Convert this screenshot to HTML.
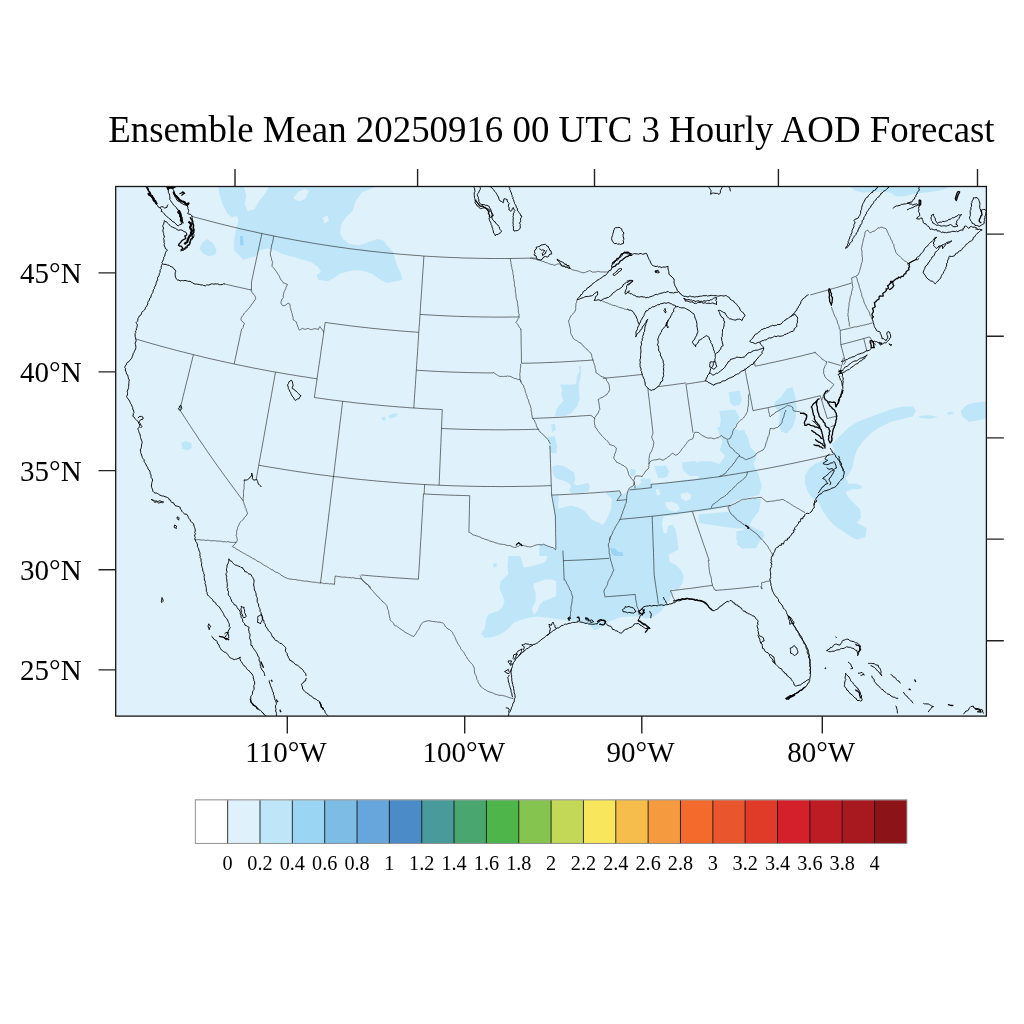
<!DOCTYPE html><html><head><meta charset="utf-8"><style>html,body{margin:0;padding:0;background:#fff;width:1024px;height:1024px;overflow:hidden}svg{display:block}text{font-family:"Liberation Serif",serif;fill:#000}</style></head><body>
<svg width="1024" height="1024" viewBox="0 0 1024 1024">
<text x="108.2" y="141.8" font-size="37" textLength="886.4" lengthAdjust="spacingAndGlyphs">Ensemble Mean 20250916 00 UTC 3 Hourly AOD Forecast</text>
<rect x="115.7" y="186.5" width="870.6999999999999" height="529.6" fill="#dff2fb"/>
<defs><clipPath id="mc"><rect x="115.7" y="186.5" width="870.6999999999999" height="529.6"/></clipPath></defs>
<g clip-path="url(#mc)"><path d="M218.1 184.4 219.7 195.4 222.8 204.8 227.5 214.1 232.2 217.2 236.9 215.7 238.4 220.4 236.9 226.6 235.3 232.9 233.8 242.2 233.8 250.1 238.4 254.8 243.1 259.4 249.4 257.9 255.6 256.3 260.3 250.1 268.1 248.5 274.4 250.1 280.6 253.2 290.0 256.3 302.5 259.4 311.9 262.6 318.1 267.2 321.2 271.9 316.6 275.1 318.1 279.8 327.5 281.3 333.8 278.2 340.0 273.5 352.5 270.4 361.9 270.4 371.2 273.5 380.6 279.8 386.9 282.9 396.2 281.3 402.5 279.8 400.9 273.5 397.8 267.2 394.7 257.9 393.1 251.6 386.9 245.4 383.8 240.7 377.5 239.1 368.1 242.2 358.8 245.4 349.4 243.8 343.1 239.1 340.0 232.9 341.6 223.5 346.2 217.2 352.5 211.0 355.6 201.6 361.9 192.2 374.4 187.6 377.5 184.4Z" fill="#bee6f8"/><path d="M243.1 184.4 246.2 195.4 244.7 204.8 247.8 211.0 254.1 209.4 258.8 201.6 263.4 195.4 268.1 189.1 268.1 184.4Z" fill="#dff2fb"/><path d="M293.1 198.5 297.8 192.2 304.1 189.1 308.8 190.7 305.6 198.5 299.4 201.6Z" fill="#dff2fb"/><path d="M322.8 217.2 327.5 215.7 329.1 220.4 324.4 223.5Z" fill="#dff2fb"/><path d="M199.4 248.5 202.5 242.2 207.2 239.1 213.4 243.8 216.6 250.1 215.0 254.8 208.8 256.3 202.5 253.2Z" fill="#bee6f8"/><path d="M240.0 236.0 243.1 236.0 243.8 245.4 240.0 245.4Z" fill="#9ad6f3"/><path d="M847.9 184.9 854.7 190.5 863.7 192.8 872.8 191.7 881.9 191.7 890.9 192.8 895.5 196.2 904.5 196.2 913.6 193.9 922.7 192.8 931.7 191.7 940.8 190.5 947.6 188.3 949.8 184.9Z" fill="#bee6f8"/><path d="M181.2 442.9 185.3 441.0 191.6 442.9 191.6 448.5 186.9 450.4 182.2 448.5Z" fill="#bee6f8"/><path d="M381.2 417.2 384.4 416.6 386.2 419.8 383.1 421.0Z" fill="#bee6f8"/><path d="M388.4 415.7 393.1 413.5 397.8 413.5 395.6 417.2 390.0 418.5Z" fill="#bee6f8"/><path d="M552.5 466.6 557.2 465.0 563.4 465.8 569.7 469.7 574.4 472.8 575.2 479.1 573.6 483.8 577.5 485.3 583.8 483.8 588.4 483.0 590.0 486.9 588.4 491.6 582.2 493.1 575.9 494.7 571.2 493.1 568.9 490.0 571.2 486.9 569.7 483.8 563.4 480.6 557.2 479.1 554.1 475.9 552.5 471.2Z" fill="#bee6f8"/><path d="M549.4 439.2 555.6 439.2 557.2 446.2 555.6 452.5 550.9 452.5 548.6 446.2Z" fill="#bee6f8"/><path d="M551.7 495.5 571.2 493.9 580.6 494.7 586.9 493.9 594.7 493.1 605.6 492.3 618.1 491.6 622.8 494.7 627.5 491.6 630.6 488.4 633.8 486.9 638.4 485.3 641.6 482.2 640.0 479.8 643.9 478.3 649.4 479.8 650.9 484.5 658.8 483.8 668.1 482.5 677.5 480.9 686.9 479.8 700.9 478.3 700.9 600.9 539.2 600.9 539.2 544.7 544.7 543.9 550.9 547.8 555.6 549.4 555.6 533.8 554.8 518.1 553.3 505.6Z" fill="#bee6f8"/><path d="M558.8 493.9 571.2 493.1 586.9 492.8 605.6 492.0 611.9 496.2 611.1 508.8 608.8 515.0 605.6 521.2 602.5 525.2 599.4 522.8 594.7 521.2 590.0 518.1 586.9 513.4 583.8 510.3 577.5 507.2 571.2 505.6 563.4 507.2 558.0 508.8Z" fill="#dff2fb"/><path d="M605.6 493.1 613.4 492.3 618.1 493.1 616.6 497.8 611.9 498.6 608.8 496.2Z" fill="#bee6f8"/><path d="M663.4 516.6 669.7 515.8 675.9 515.0 680.6 513.4 700.9 511.1 700.9 600.9 669.7 600.9 668.1 590.0 672.8 588.4 677.5 590.0 682.2 583.8 683.8 575.9 680.6 569.7 675.9 565.0 669.7 561.9 668.1 555.6 672.8 552.5 678.3 549.4 677.5 540.0 675.9 530.6 672.8 524.4 668.1 525.9 666.6 533.8 663.4 532.2 661.9 524.4Z" fill="#dff2fb"/><path d="M665.0 502.5 671.2 501.7 677.5 504.1 679.8 508.8 675.9 511.9 669.7 510.3 666.6 507.2Z" fill="#dff2fb"/><path d="M680.6 493.9 686.9 492.3 691.6 494.7 690.0 499.4 685.3 500.9 681.4 498.6Z" fill="#dff2fb"/><path d="M655.6 490.0 658.8 488.4 660.3 494.7 657.2 495.5Z" fill="#dff2fb"/><path d="M568.1 571.2 574.4 569.7 577.5 575.9 574.4 579.1 569.7 577.5Z" fill="#dff2fb"/><path d="M555.6 583.8 561.9 585.3 563.4 593.1 557.2 594.7Z" fill="#dff2fb"/><path d="M610.3 547.8 615.0 548.6 618.1 551.7 622.8 552.5 623.6 558.8 618.1 559.5 613.4 555.6 611.1 552.5Z" fill="#9ad6f3"/><path d="M657.2 466.6 665.0 465.8 669.7 471.2 665.0 477.5 658.8 478.3 657.2 472.8Z" fill="#bee6f8"/><path d="M683.8 463.4 690.0 461.9 696.2 463.4 700.9 465.0 700.9 475.9 690.0 475.9 685.3 471.2 682.2 466.6Z" fill="#bee6f8"/><path d="M629.8 469.7 633.8 468.9 636.1 471.2 634.5 475.2 631.4 475.2Z" fill="#bee6f8"/><path d="M508.4 556.1 507.4 567.8 508.4 573.7 504.5 577.6 500.5 581.5 499.6 589.3 502.5 595.2 504.5 601.0 502.5 606.9 498.6 610.8 492.7 612.7 487.9 614.7 485.9 620.5 484.9 628.4 481.0 633.2 484.9 638.1 492.7 637.1 500.5 634.2 506.4 630.3 510.3 626.4 514.2 622.5 522.0 619.6 529.8 617.6 537.7 616.6 545.5 617.6 553.3 618.6 561.1 619.6 568.9 620.5 576.7 620.5 588.4 624.5 594.3 630.3 598.2 629.3 602.1 624.5 611.9 620.5 619.7 617.6 627.5 616.6 635.3 616.6 641.2 617.6 641.2 556.1Z" fill="#bee6f8"/><path d="M492.7 563.9 496.6 562.9 496.6 566.8 493.7 567.8Z" fill="#bee6f8"/><path d="M520.1 556.1 524.0 567.8 531.8 565.9 539.6 563.9 545.5 562.0 547.4 556.1Z" fill="#dff2fb"/><path d="M533.8 583.4 539.6 581.5 545.5 579.5 551.3 579.5 557.2 581.5 561.1 585.4 563.0 591.2 559.1 595.2 553.3 597.1 549.4 599.1 543.5 601.0 539.6 604.9 537.7 610.8 533.8 614.7 531.8 608.8 535.7 601.0 535.7 593.2 533.8 587.3Z" fill="#dff2fb"/><path d="M568.9 571.7 574.8 570.7 578.7 575.6 576.7 579.5 570.9 577.6Z" fill="#dff2fb"/><path d="M556.1 556.1 669.4 556.1 668.4 571.7 669.4 581.5 672.3 589.3 671.3 595.2 669.4 599.1 665.5 604.9 661.6 610.8 653.8 616.6 645.9 618.6 638.1 614.7 628.4 615.7 618.6 616.6 610.8 618.6 606.9 624.5 599.1 627.4 591.2 626.4 583.4 618.6 571.7 617.6 556.1 618.6Z" fill="#bee6f8"/><path d="M831.7 444.5 840.1 436.1 848.5 427.6 857.0 422.0 868.2 417.8 879.4 413.6 890.6 409.4 901.8 406.6 913.0 406.6 915.8 410.8 913.0 416.4 901.8 419.2 890.6 422.0 879.4 427.6 871.0 433.3 862.6 441.7 857.0 450.1 854.1 458.5 852.7 466.9 848.5 475.3 845.7 478.1 848.5 483.7 857.0 483.7 862.6 486.5 859.8 489.3 851.3 489.3 845.7 492.1 848.5 497.7 854.1 503.3 859.8 508.9 861.2 517.3 857.0 522.9 862.6 525.7 866.8 528.5 865.4 537.0 857.0 539.8 851.3 537.0 842.9 531.3 834.5 525.7 828.9 520.1 823.3 511.7 820.5 506.1 817.7 500.5 812.1 497.7 807.9 492.1 805.1 483.7 805.1 475.3 809.3 468.3 814.9 464.1 823.3 459.9 831.7 455.7 834.5 450.1Z" fill="#bee6f8"/><path d="M918.6 415.9 929.8 415.3 938.2 417.0 929.8 418.7 920.0 418.1Z" fill="#bee6f8"/><path d="M946.6 412.5 952.2 411.4 953.6 414.2 948.0 414.8Z" fill="#bee6f8"/><path d="M960.7 410.8 966.3 405.2 974.7 402.4 988.7 401.0 988.7 417.8 977.5 420.6 969.1 422.0 962.1 416.4Z" fill="#bee6f8"/><path d="M774.3 402.4 781.3 396.8 786.9 388.4 792.5 387.0 795.3 396.8 796.7 408.0 795.3 419.2 792.5 427.6 786.9 433.3 781.3 431.8 778.5 424.8 779.9 413.6 775.7 408.0Z" fill="#bee6f8"/><path d="M729.4 394.0 739.2 392.6 742.0 399.6 739.2 405.2 732.2 405.2Z" fill="#bee6f8"/><path d="M719.6 413.6 733.6 412.2 739.2 416.4 736.4 422.0 725.2 422.0Z" fill="#bee6f8"/><path d="M716.8 427.6 728.0 424.8 739.2 430.4 747.6 436.1 750.4 447.3 756.1 452.9 756.1 458.5 753.3 464.1 758.9 475.3 761.7 486.5 758.9 494.9 747.6 497.7 736.4 500.5 728.0 506.1 716.8 508.9 698.6 511.7 698.6 461.3 711.2 461.3 719.6 464.1 725.2 455.7 719.6 450.1 722.4 441.7 719.6 434.7Z" fill="#bee6f8"/><path d="M698.6 514.5 728.0 511.7 742.0 520.1 747.6 528.5 736.4 528.5 716.8 525.7 698.6 522.9Z" fill="#bee6f8"/><path d="M736.4 531.3 750.4 528.5 761.7 537.0 756.1 548.2 742.0 548.2 736.4 539.8Z" fill="#bee6f8"/><path d="M578.5 366.0 579.8 371.0 577.2 376.0 576.0 383.5 571.0 386.0 563.5 388.5 561.0 393.5 563.5 401.0 558.5 406.0 556.0 411.0 554.8 416.0 561.0 416.0 571.0 413.5 577.2 406.0 579.8 398.5 578.5 386.0 581.0 376.0 581.0 366.0Z" fill="#bee6f8"/><path d="M551.0 424.8 554.8 423.5 556.0 429.8 552.2 432.2Z" fill="#bee6f8"/><path d="M549.8 437.2 554.8 436.0 556.0 443.5 549.0 443.5Z" fill="#bee6f8"/><path d="M560.0 384.4 563.1 392.2 566.2 398.5 561.6 404.8 556.9 409.4 555.3 415.7 566.2 415.7 572.5 409.4 574.1 401.6 575.6 393.8 577.2 384.4Z" fill="#bee6f8"/><path d="M728.8 392.2 739.7 390.7 741.2 401.6 735.0 406.3 730.3 403.2Z" fill="#bee6f8"/><path d="M719.4 411.0 735.0 409.4 739.7 417.2 735.0 426.6 725.6 436.0 719.4 429.8 720.9 420.4Z" fill="#bee6f8"/><path d="M728.8 432.9 744.4 429.8 747.5 442.2 750.6 454.8 744.4 459.4 735.0 454.8 728.8 445.4Z" fill="#bee6f8"/><path d="M631.2 468.8 635.0 469.8 633.8 476.6 630.0 475.4Z" fill="#bee6f8"/><path d="M653.8 465.7 666.2 465.7 667.8 476.6 658.4 478.2Z" fill="#bee6f8"/><path d="M681.9 462.6 694.4 461.0 700.6 464.1 700.6 473.5 688.1 475.1 683.4 470.4Z" fill="#bee6f8"/><path d="M641.2 479.8 650.6 478.2 650.6 486.0 642.8 487.6Z" fill="#bee6f8"/><path d="M547.5 436.0 552.2 437.6 555.3 443.8 556.9 453.2 552.2 453.2 549.1 445.4Z" fill="#bee6f8"/><path d="M728.4 507.3 739.4 501.1 750.3 498.4 761.2 498.4 758.9 511.2 753.4 518.3 749.5 525.3 755.0 528.4 762.8 531.6 764.4 536.2 758.9 541.7 751.9 547.2 742.5 548.8 736.2 544.1 740.2 537.8 744.1 530.0 740.9 524.5 735.5 519.1 730.0 514.4Z" fill="#bee6f8"/></g>
<g clip-path="url(#mc)" fill="none" stroke-linejoin="round"><path d="M136.2 339.1 139.6 340.1 143.0 341.1 146.3 342.1 149.7 343.0 153.0 344.0 156.4 344.9 159.8 345.9 163.1 346.8 166.5 347.7 169.9 348.6 173.3 349.5 176.7 350.4 180.0 351.3 183.4 352.1 186.8 353.0 190.2 353.8 193.6 354.7 197.0 355.5 200.4 356.3 203.8 357.2 207.2 358.0 210.6 358.8 214.0 359.5 217.4 360.3 220.8 361.1 224.2 361.8 227.6 362.6 231.1 363.3 234.5 364.1 237.9 364.8 241.3 365.5 244.7 366.2 248.2 366.9 251.6 367.6 255.0 368.3 258.5 368.9 261.9 369.6 265.3 370.2 268.8 370.9 272.2 371.5 275.7 372.1 279.1 372.7 282.5 373.3 286.0 373.9 289.4 374.5 292.9 375.0 296.3 375.6 299.8 376.2 303.2 376.7 306.7 377.2 310.1 377.8 313.6 378.3 317.1 378.8 M224.8 284.0 227.7 284.7 230.7 285.4 233.6 286.1 236.6 286.8 239.6 287.4 242.5 288.1 245.5 288.7 248.4 289.4 251.4 290.0 M261.9 233.5 261.0 237.9 260.0 242.3 259.1 246.7 258.1 251.1 257.2 255.5 256.2 259.9 255.3 264.3 254.3 268.7 253.4 273.1 252.5 277.4 251.5 281.8 251.5 285.9 251.4 290.0 M241.7 328.8 240.7 333.2 239.8 337.6 238.9 342.0 237.9 346.4 237.0 350.8 236.1 355.2 235.1 359.6 234.2 364.0 M323.8 331.8 323.2 336.5 322.5 341.2 321.8 345.9 321.1 350.6 320.5 355.3 319.8 360.0 319.1 364.7 318.4 369.4 317.7 374.1 317.1 378.8 316.4 383.5 315.7 388.2 315.0 392.8 314.4 397.5 M323.8 331.8 324.5 327.1 325.2 322.4 328.5 322.9 331.9 323.4 335.2 323.8 338.5 324.3 341.9 324.7 345.2 325.1 348.5 325.6 351.9 326.0 355.2 326.4 358.6 326.8 361.9 327.2 365.2 327.5 368.6 327.9 371.9 328.3 375.3 328.6 378.6 328.9 382.0 329.3 385.3 329.6 388.7 329.9 392.0 330.2 395.4 330.5 398.7 330.8 402.1 331.1 405.4 331.3 408.8 331.6 412.1 331.8 415.5 332.1 418.8 332.3 M423.9 256.0 423.6 260.8 423.3 265.6 423.0 270.4 422.6 275.1 422.3 279.9 422.0 284.7 421.7 289.5 421.4 294.2 421.0 299.0 420.7 303.8 420.4 308.5 420.1 313.3 419.8 318.0 419.5 322.8 419.1 327.5 418.8 332.3 418.5 337.0 418.2 341.8 417.9 346.5 417.6 351.3 417.3 356.0 416.9 360.7 416.6 365.5 416.3 370.2 416.0 374.9 415.7 379.6 415.4 384.4 415.1 389.1 414.7 393.8 414.4 398.6 414.1 403.3 413.8 408.0 M420.0 314.4 423.3 314.6 426.6 314.8 429.9 315.0 433.2 315.2 436.5 315.4 439.8 315.6 443.1 315.7 446.5 315.9 449.8 316.0 453.1 316.2 456.4 316.3 459.7 316.4 463.0 316.5 466.3 316.6 469.6 316.7 472.9 316.8 476.2 316.8 479.5 316.9 482.8 317.0 486.1 317.0 489.5 317.0 492.8 317.1 496.1 317.1 499.4 317.1 502.7 317.1 506.0 317.1 509.3 317.0 512.6 317.0 515.9 317.0 519.2 316.9 M520.9 329.1 521.0 333.4 521.1 337.7 521.1 341.9 521.2 346.2 521.3 350.5 521.4 354.8 521.4 359.0 521.5 363.3 M416.3 370.2 419.7 370.4 423.0 370.6 426.3 370.8 429.7 371.0 433.0 371.2 436.4 371.4 439.7 371.5 443.0 371.7 446.4 371.8 449.7 372.0 453.1 372.1 456.4 372.2 459.8 372.3 463.1 372.4 466.5 372.5 469.8 372.6 473.2 372.7 476.5 372.7 479.8 372.8 483.2 372.9 486.5 372.9 489.9 372.9 493.2 372.9 M521.5 363.3 524.9 363.2 528.4 363.2 531.8 363.1 535.2 363.0 538.6 362.9 542.1 362.8 545.5 362.6 548.9 362.5 552.3 362.4 555.8 362.2 559.2 362.1 562.6 361.9 566.0 361.7 569.5 361.5 572.9 361.3 576.3 361.1 579.7 360.9 583.2 360.7 586.6 360.5 590.0 360.2 593.4 360.0 M532.2 418.4 535.6 418.3 539.1 418.2 542.5 418.0 545.9 417.9 549.3 417.8 552.7 417.6 556.1 417.4 559.5 417.3 562.9 417.1 566.4 416.9 569.8 416.7 573.2 416.5 576.6 416.3 580.0 416.0 583.4 415.8 586.8 415.6 590.2 415.3 592.1 416.1 593.7 417.9 595.0 419.1 M441.5 428.5 445.1 428.6 448.7 428.8 452.3 428.9 456.0 429.1 459.6 429.2 463.2 429.3 466.8 429.4 470.4 429.5 474.0 429.5 477.7 429.6 481.3 429.7 484.9 429.7 488.5 429.7 492.1 429.8 495.7 429.8 499.4 429.8 503.0 429.8 506.6 429.8 510.2 429.7 513.8 429.7 517.5 429.7 521.1 429.6 524.7 429.6 528.3 429.5 531.9 429.4 535.6 429.3 539.2 429.2 M413.8 408.0 417.4 408.2 420.9 408.5 424.5 408.7 428.1 408.9 431.6 409.1 435.2 409.2 438.8 409.4 442.3 409.6 442.1 414.3 441.9 419.0 441.7 423.8 441.5 428.5 441.3 433.2 441.1 437.9 440.9 442.7 440.7 447.4 440.5 452.1 440.3 456.8 440.1 461.6 439.9 466.3 439.7 471.0 439.5 475.8 439.3 480.5 439.1 485.2 M439.1 485.2 442.9 485.4 446.6 485.5 450.3 485.7 454.1 485.8 457.8 485.9 461.5 486.0 465.3 486.1 469.0 486.2 472.8 486.3 476.5 486.4 480.2 486.4 484.0 486.5 487.7 486.5 491.5 486.5 495.2 486.5 498.9 486.6 502.7 486.6 506.4 486.5 510.2 486.5 513.9 486.5 517.6 486.4 521.4 486.4 525.1 486.3 528.9 486.3 532.6 486.2 536.3 486.1 540.1 486.0 543.8 485.9 547.6 485.7 551.3 485.6 M551.3 485.6 551.1 481.2 551.0 476.8 550.8 472.4 550.7 467.9 550.5 463.5 550.4 459.1 550.2 454.7 550.1 450.3 549.9 445.9 M314.4 397.5 317.9 398.0 321.4 398.5 325.0 399.0 328.5 399.5 332.1 400.0 335.6 400.4 339.1 400.9 342.7 401.3 346.2 401.7 349.8 402.1 353.3 402.6 356.9 403.0 360.4 403.3 364.0 403.7 367.5 404.1 371.1 404.4 374.6 404.8 378.2 405.1 381.8 405.5 385.3 405.8 388.9 406.1 392.4 406.4 396.0 406.7 399.5 407.0 403.1 407.2 406.7 407.5 410.2 407.8 413.8 408.0 M342.7 401.3 342.1 406.0 341.5 410.6 341.0 415.3 340.4 419.9 339.8 424.6 339.3 429.2 338.7 433.9 338.1 438.6 337.6 443.2 337.0 447.9 336.4 452.5 335.9 457.2 335.3 461.8 334.7 466.5 334.2 471.2 333.6 475.8 333.0 480.5 332.4 485.1 331.9 489.8 331.3 494.5 330.7 499.1 330.2 503.8 329.6 508.5 329.0 513.1 328.5 517.8 327.9 522.5 327.3 527.1 326.8 531.8 326.2 536.5 325.6 541.2 325.0 545.9 324.5 550.5 323.9 555.2 323.3 559.9 322.8 564.6 322.2 569.3 321.6 574.0 321.0 578.7 320.5 583.4 M258.8 465.2 262.4 465.9 266.1 466.5 269.7 467.1 273.4 467.7 277.0 468.3 280.7 468.9 284.3 469.5 288.0 470.1 291.7 470.7 295.3 471.2 299.0 471.8 302.7 472.3 306.3 472.8 310.0 473.4 313.7 473.9 317.3 474.4 321.0 474.9 324.7 475.3 328.4 475.8 332.0 476.3 335.7 476.7 339.4 477.1 343.1 477.6 346.8 478.0 350.4 478.4 354.1 478.8 357.8 479.2 361.5 479.6 365.2 479.9 368.9 480.3 372.6 480.6 376.3 481.0 380.0 481.3 383.6 481.6 387.3 481.9 391.0 482.2 394.7 482.5 398.4 482.8 402.1 483.1 405.8 483.3 409.5 483.6 413.2 483.8 416.9 484.0 420.6 484.3 424.3 484.5 428.0 484.7 431.7 484.9 435.4 485.0 439.1 485.2 M275.5 372.1 274.7 376.6 273.9 381.1 273.1 385.6 272.3 390.1 271.5 394.6 270.7 399.1 269.8 403.6 269.0 408.1 268.2 412.6 267.4 417.1 266.6 421.6 265.8 426.1 265.0 430.6 264.2 435.1 263.4 439.6 262.6 444.1 261.8 448.6 260.9 453.1 260.1 457.6 259.3 462.1 258.5 466.6 257.7 471.1 256.9 475.6 256.1 480.1 M193.4 354.7 192.3 359.2 191.2 363.8 190.0 368.4 188.9 373.0 187.8 377.6 186.6 382.2 185.5 386.8 184.4 391.4 183.2 396.0 182.1 400.6 181.0 405.2 179.8 409.8 182.5 414.0 185.2 418.2 187.9 422.4 190.6 426.5 193.4 430.7 196.2 434.9 198.9 439.1 201.8 443.2 204.6 447.4 207.4 451.5 210.3 455.7 213.2 459.8 216.1 464.0 219.1 468.1 222.0 472.2 225.0 476.3 228.0 480.4 231.0 484.5 234.0 488.6 237.1 492.7 240.1 496.8 243.2 500.9 M361.1 574.9 364.9 575.3 368.7 575.6 372.5 576.0 376.3 576.3 380.2 576.6 384.0 576.9 387.8 577.2 391.6 577.5 395.5 577.8 399.3 578.0 403.1 578.3 407.0 578.5 410.8 578.8 414.6 579.0 418.4 579.2 418.7 574.5 419.0 569.7 419.3 565.0 419.6 560.2 419.9 555.5 420.1 550.7 420.4 546.0 420.7 541.2 421.0 536.5 421.3 531.8 421.5 527.0 421.8 522.3 422.1 517.6 422.4 512.8 422.7 508.1 422.9 503.4 423.2 498.6 423.5 493.9 427.1 494.1 430.6 494.3 434.2 494.5 437.7 494.6 441.3 494.8 444.8 494.9 448.4 495.1 451.9 495.2 455.5 495.3 459.1 495.4 462.6 495.5 466.2 495.6 469.7 495.7 469.6 500.3 469.5 504.9 469.4 509.5 469.3 514.1 469.2 518.7 469.1 523.3 469.0 527.9 468.9 532.5 M424.6 484.5 424.4 489.2 424.1 493.9 M551.3 485.6 551.5 490.3 551.6 495.1 552.4 499.2 553.1 503.3 553.9 507.5 554.6 511.6 555.4 515.8 555.4 519.9 555.5 524.1 555.6 528.3 555.6 532.5 555.7 536.6 555.8 540.8 555.8 545.0 555.9 549.2 M562.9 550.6 563.1 554.8 563.3 559.1 563.5 563.3 563.7 567.5 563.8 571.8 564.0 576.0 564.2 580.3 M563.4 560.7 567.2 560.5 571.0 560.4 574.8 560.2 578.6 560.1 582.4 559.9 586.2 559.7 590.0 559.5 593.9 559.3 597.7 559.1 601.5 558.8 605.3 558.6 609.1 558.3 M551.6 495.1 555.4 494.9 559.2 494.8 563.0 494.6 566.8 494.4 570.5 494.2 574.3 494.0 578.1 493.8 581.9 493.6 585.6 493.4 589.4 493.1 593.2 492.9 596.9 492.6 600.7 492.3 604.5 492.1 608.3 491.8 612.0 491.5 615.8 491.2 619.6 490.8 M619.6 490.8 621.1 494.5 619.0 497.5 616.9 500.6 620.2 500.3 623.5 500.0 626.8 499.7 M604.4 596.9 608.3 596.6 612.2 596.3 616.1 596.0 620.0 595.7 623.8 595.4 627.7 595.1 631.6 594.7 635.5 594.4 M652.2 516.2 652.3 520.7 652.5 525.3 652.7 529.8 652.8 534.4 653.0 538.9 653.1 543.4 653.3 548.0 653.5 552.5 653.6 557.1 653.8 561.6 653.9 566.2 654.0 570.7 654.2 575.3 654.9 580.0 655.6 584.7 656.3 589.5 657.0 594.2 657.7 598.9 658.3 603.7 M619.7 519.4 623.5 519.0 627.4 518.7 631.2 518.3 635.1 518.0 638.9 517.6 642.7 517.2 646.6 516.8 650.4 516.4 654.3 516.0 658.1 515.6 661.9 515.1 665.8 514.7 669.6 514.2 673.4 513.7 677.2 513.3 681.1 512.8 684.9 512.3 688.7 511.8 692.5 511.2 696.4 510.7 700.2 510.2 704.0 509.6 707.8 509.1 711.6 508.5 715.4 507.9 719.3 507.3 723.1 506.7 726.9 506.1 730.7 505.5 M629.4 489.9 633.1 489.6 636.7 489.2 640.4 488.9 644.1 488.5 647.7 488.1 651.4 487.7 651.0 484.3 654.7 484.0 658.4 483.7 662.0 483.3 665.7 483.0 669.4 482.6 673.0 482.2 676.7 481.8 680.4 481.4 684.0 481.0 687.7 480.6 691.4 480.2 695.0 479.8 698.7 479.3 702.4 478.9 706.0 478.4 709.7 477.9 713.4 477.4 717.0 477.0 M717.0 477.0 720.8 476.4 724.5 475.8 728.3 475.2 732.0 474.6 735.8 474.0 739.5 473.3 743.3 472.7 747.0 472.0 750.7 471.4 754.3 470.8 757.9 470.1 761.5 469.4 765.1 468.8 768.8 468.1 772.4 467.4 776.0 466.7 779.6 466.0 783.2 465.3 786.8 464.5 790.4 463.8 794.0 463.1 797.6 462.3 801.2 461.5 804.8 460.8 808.4 460.0 812.0 459.2 815.6 458.4 819.2 457.5 822.8 456.7 826.4 455.9 830.0 455.0 833.6 454.2 M692.3 511.3 693.8 515.8 695.3 520.3 696.9 524.8 698.4 529.2 699.9 533.7 701.5 538.2 703.0 542.7 704.6 547.2 706.2 551.7 707.7 556.2 709.3 560.7 M670.2 590.8 674.0 590.4 677.8 589.9 681.7 589.4 685.5 588.9 689.4 588.5 693.2 588.0 697.0 587.5 700.9 586.9 704.7 586.4 708.6 585.9 712.4 585.3 M715.5 590.5 719.4 590.1 723.4 589.8 727.4 589.4 731.3 589.1 735.3 588.7 739.3 588.3 743.2 587.9 747.2 587.5 751.2 587.0 755.1 586.6 759.1 586.2 M754.2 361.2 754.7 363.7 755.2 366.2 758.6 365.5 762.0 364.8 765.4 364.1 768.7 363.3 772.1 362.6 775.4 361.9 778.8 361.1 782.2 360.4 785.5 359.6 788.9 358.8 792.2 358.1 795.6 357.3 798.9 356.5 802.3 355.7 805.6 354.8 808.9 354.0 812.3 353.2 815.6 352.3 M827.8 361.7 831.0 362.6 834.1 363.5 837.3 364.5 840.5 365.4 M744.8 368.3 745.6 372.5 746.4 376.7 747.2 381.0 748.1 385.2 748.9 389.4 749.7 393.7 750.5 397.9 751.4 402.2 752.2 406.4 753.0 410.6 756.6 409.9 760.1 409.2 763.7 408.5 767.2 407.8 770.8 407.0 774.3 406.3 777.9 405.5 781.4 404.8 784.9 404.0 788.5 403.2 792.0 402.4 795.5 401.6 799.1 400.8 802.6 400.0 806.1 399.1 809.7 398.3 813.2 397.4 816.7 396.6 820.2 395.7 M820.2 395.7 821.4 399.5 822.6 403.3 823.7 407.1 824.9 410.9 826.1 414.7 827.3 418.5 830.4 417.7 833.5 416.9 836.6 416.1 M830.6 426.8 833.3 425.8 835.9 424.7 M840.2 331.0 840.4 335.6 840.6 340.1 840.8 344.7 842.0 349.0 843.1 353.3 844.3 357.7 845.5 362.0 843.8 364.5 M840.8 344.7 844.0 343.8 847.2 343.0 850.4 342.2 853.6 341.3 856.8 340.5 860.0 339.6 863.1 338.7 866.3 337.8 869.5 336.9 871.6 339.7 873.7 342.5 875.9 345.3 M863.8 338.6 864.8 342.9 865.9 347.1 866.9 351.4 M810.2 294.9 813.4 294.1 816.6 293.2 819.7 292.3 822.9 291.4 826.1 290.5 829.3 289.6 832.5 288.7 835.7 287.8 838.9 286.9 842.0 285.9 845.2 285.0 848.4 284.0 851.5 283.1 M686.2 384.0 689.3 383.6 692.5 383.1 695.6 382.6 698.8 382.1 701.9 381.6 705.1 381.1 M657.7 386.7 660.9 386.3 664.0 385.9 667.2 385.5 670.3 385.1 673.5 384.7 676.6 384.2 679.7 383.8 682.9 383.4 686.0 382.9 M685.9 384.1 686.6 388.5 687.2 392.9 687.8 397.3 688.5 401.8 689.1 406.2 689.8 410.6 690.4 415.1 691.1 419.5 691.7 423.9 692.4 428.3 693.0 432.8 M647.8 387.9 648.3 392.5 648.8 397.0 649.4 401.5 649.9 406.0 650.4 410.6 650.9 415.1 651.5 419.6 652.0 424.2 652.5 428.7 653.0 433.2 M602.9 378.3 606.2 378.0 609.5 377.7 612.8 377.4 616.1 377.1 619.4 376.8 622.7 376.5 626.0 376.2 629.3 375.8 632.5 375.5 635.8 375.1 639.1 374.8 642.4 374.4 M191.9 216.3 194.9 217.2 197.9 218.0 200.9 218.8 204.0 219.6 207.0 220.4 210.0 221.2 213.1 222.0 216.1 222.8 219.1 223.6 222.2 224.3 225.2 225.1 228.3 225.8 231.3 226.6 234.4 227.3 237.4 228.0 240.5 228.8 243.5 229.5 246.6 230.2 249.6 230.8 252.7 231.5 255.8 232.2 258.8 232.9 261.9 233.5 265.0 234.2 268.0 234.8 271.1 235.4 274.2 236.1 277.3 236.7 280.3 237.3 283.4 237.9 286.5 238.5 289.6 239.0 292.7 239.6 295.7 240.2 298.8 240.7 301.9 241.3 305.0 241.8 308.1 242.3 311.2 242.9 314.3 243.4 317.4 243.9 320.5 244.4 323.6 244.9 326.7 245.3 329.8 245.8 332.9 246.3 336.0 246.7 339.1 247.2 342.2 247.6 345.3 248.0 348.4 248.5 351.5 248.9 354.6 249.3 357.7 249.7 360.8 250.0 363.9 250.4 367.1 250.8 370.2 251.2 373.3 251.5 376.4 251.8 379.5 252.2 382.6 252.5 385.8 252.8 388.9 253.1 392.0 253.4 395.1 253.7 398.3 254.0 401.4 254.3 404.5 254.5 407.6 254.8 410.8 255.0 413.9 255.3 417.0 255.5 420.1 255.7 423.3 256.0 426.4 256.2 429.5 256.4 432.6 256.5 435.8 256.7 438.9 256.9 442.0 257.1 445.2 257.2 448.3 257.4 451.4 257.5 454.6 257.6 457.7 257.7 460.8 257.9 464.0 258.0 467.1 258.1 470.2 258.1 473.4 258.2 476.5 258.3 479.6 258.3 482.8 258.4 485.9 258.4 489.0 258.5 492.2 258.5 495.3 258.5 498.5 258.5 501.6 258.5 504.7 258.5 507.9 258.5 511.0 258.5 514.1 258.4 517.3 258.4 520.4 258.3 523.5 258.3 526.7 258.2 529.8 258.1 532.9 258.0 536.1 258.0 M244.5 479.5 244.3 480.8 244.3 482.1 244.4 483.5 243.9 484.7 244.2 486.1 244.1 487.4 244.1 488.7 243.7 490.0 243.4 491.2 243.4 492.5 243.5 493.8 243.5 495.0 243.6 496.3 243.1 497.5 243.1 498.7 243.1 500.0 243.3 501.3 243.8 502.5 244.0 503.8 244.5 505.0 245.1 506.2 245.2 507.6 246.1 508.7 246.2 510.0 246.7 511.2 247.2 512.5 247.7 513.9 246.6 514.6 246.2 515.9 245.2 516.7 244.3 517.6 243.9 518.9 242.9 519.8 241.8 520.6 240.9 521.6 239.9 522.5 239.2 523.7 238.9 525.1 238.2 526.3 237.6 527.5 237.6 528.8 236.9 530.0 236.7 531.2 236.5 532.5 236.8 533.8 236.0 535.1 236.4 536.3 236.9 537.5 237.0 538.8 237.5 540.0 236.8 541.3 236.0 542.6 235.1 543.9 233.9 545.2 232.5 546.2 M232.0 546.2 232.9 547.1 234.1 547.4 235.2 548.0 236.1 548.9 237.2 549.4 238.2 550.0 239.3 550.6 240.2 551.4 241.4 551.8 242.4 552.6 243.5 553.1 244.5 553.8 245.6 554.2 246.6 555.0 247.7 555.5 248.8 556.0 249.9 556.5 250.8 557.4 252.0 557.7 252.8 558.7 254.1 558.9 255.2 559.5 256.2 560.2 257.0 561.2 258.2 561.5 259.3 562.0 260.4 562.6 261.5 563.2 262.3 564.1 263.4 564.7 264.4 565.4 265.4 566.0 266.7 566.3 267.6 567.1 268.7 567.6 269.6 568.5 270.6 569.1 271.7 569.8 273.0 569.9 273.8 571.0 274.8 571.6 275.8 572.2 277.1 572.4 278.2 573.1 279.2 573.6 280.3 574.2 281.1 575.3 282.2 575.8 283.3 576.4 284.3 577.1 285.4 577.6 286.5 578.0 287.5 578.5 288.7 578.7 289.9 579.2 291.1 579.0 292.3 579.3 293.5 579.5 294.8 579.4 295.9 579.7 297.1 579.9 298.3 580.3 299.5 580.2 300.8 580.4 301.9 580.9 303.1 580.8 304.3 581.2 305.5 581.2 306.8 581.0 308.0 581.4 309.2 581.5 310.3 581.9 311.6 581.8 312.8 582.2 314.0 582.2 315.2 582.2 316.4 582.7 317.6 582.4 318.8 583.0 320.0 582.8 321.2 582.8 322.4 583.0 323.6 583.5 324.8 583.7 326.1 583.2 327.3 583.6 328.5 583.7 329.7 584.0 330.9 583.7 332.1 584.0 333.3 584.1 334.7 584.3 334.4 582.9 334.9 581.6 334.6 580.2 334.7 578.9 335.0 577.6 335.0 576.2 336.3 576.1 337.5 576.6 338.8 576.4 340.0 576.9 341.2 577.0 342.5 577.1 343.7 577.2 345.0 577.1 346.3 577.3 347.5 577.4 348.7 577.8 350.0 577.4 351.2 578.0 352.5 577.6 353.8 577.9 355.0 578.0 356.2 578.5 357.5 578.4 358.8 578.4 360.0 578.9 361.4 578.6 362.2 579.7 363.1 580.6 364.0 581.7 364.9 582.6 365.9 583.4 367.1 584.1 368.1 584.9 369.1 585.7 369.9 586.8 371.0 587.5 M195.0 539.5 196.2 539.7 197.4 539.8 198.7 539.6 199.9 539.8 201.1 540.1 202.3 540.1 203.5 539.9 204.7 540.2 205.9 540.5 207.1 540.2 208.4 540.3 209.6 540.4 210.8 540.8 212.0 540.9 213.2 540.6 214.4 540.7 215.6 540.8 216.8 541.0 218.1 541.2 219.3 541.1 220.5 541.3 221.7 541.3 222.9 541.8 224.1 541.8 225.3 541.5 226.5 542.1 227.8 541.6 229.0 541.9 230.2 542.3 231.4 542.3 232.6 542.4 233.8 542.3 235.0 542.2 236.2 542.5 M273.8 236.0 273.4 237.3 273.4 238.6 273.1 239.9 272.7 241.2 272.7 242.5 272.2 243.7 271.7 245.0 271.5 246.2 271.4 247.5 271.1 248.7 271.0 250.0 270.9 251.3 270.4 252.5 270.3 253.7 270.4 255.0 270.7 256.3 271.3 257.5 271.5 258.8 271.7 260.0 272.2 261.2 272.7 262.5 272.3 263.7 272.1 265.0 272.1 266.4 273.1 267.4 273.9 268.5 274.9 269.4 275.7 270.7 276.6 271.9 277.4 273.1 278.1 274.4 279.0 275.4 279.4 276.6 279.9 277.8 280.5 278.9 281.2 280.0 282.3 281.3 283.1 282.7 284.6 283.3 286.0 283.9 287.5 284.4 286.8 285.8 286.0 287.2 285.8 288.8 284.9 290.2 284.2 291.6 283.8 293.1 283.5 294.6 283.1 296.0 283.4 297.7 282.3 298.7 281.7 300.0 281.2 301.2 280.9 302.5 281.0 303.8 282.2 304.7 283.1 306.0 284.4 305.5 285.7 305.1 286.9 304.1 288.1 303.2 289.6 303.8 290.0 305.0 290.2 306.2 290.1 307.5 290.8 308.7 290.9 310.0 291.4 311.2 291.6 312.5 292.3 313.7 292.2 315.0 292.7 316.2 293.1 317.5 293.1 318.7 293.2 319.9 294.3 320.4 295.2 321.2 296.3 321.9 296.6 323.4 297.2 324.8 297.6 326.2 298.3 327.4 298.6 328.8 299.5 330.2 300.9 329.3 302.5 328.3 304.0 329.1 305.6 329.3 306.8 328.8 308.2 328.3 309.6 329.1 311.3 329.6 312.5 329.2 313.7 328.9 315.0 328.8 316.6 328.9 318.4 329.5 319.0 327.9 319.9 326.5 320.7 327.8 321.5 328.9 322.5 330.0 323.2 331.2 323.8 332.5 M251.0 289.4 251.4 290.9 252.0 292.3 252.8 293.7 254.0 294.5 254.8 295.7 255.4 297.2 255.7 298.8 255.0 299.9 254.1 301.0 253.4 302.1 252.7 303.3 251.6 304.1 251.0 305.4 250.3 306.5 249.5 307.6 248.6 308.4 247.8 309.4 247.0 310.3 246.2 311.2 245.5 312.2 244.5 313.0 243.7 313.9 243.4 315.1 242.3 316.0 241.7 317.1 241.1 318.2 240.8 319.2 241.4 320.6 242.4 321.6 243.7 322.5 244.6 323.9 243.7 324.9 243.3 326.2 243.1 327.6 242.5 328.8 M530.0 258.1 531.6 258.1 533.1 258.8 534.7 258.9 536.0 259.3 537.3 259.8 538.5 260.3 539.9 260.4 541.2 260.8 542.4 261.5 543.8 261.5 545.0 262.3 546.2 262.7 547.6 262.9 548.7 263.7 550.0 264.0 551.2 264.5 552.5 264.4 553.7 265.1 555.0 265.2 556.6 264.4 558.0 263.8 559.8 264.1 561.2 265.3 562.5 265.5 563.8 265.7 564.9 266.3 566.3 266.3 567.5 266.7 568.7 267.5 569.8 268.4 571.1 268.9 572.2 269.8 573.8 270.1 575.3 270.4 576.8 270.8 578.2 271.0 579.3 271.7 580.6 272.0 581.9 272.5 583.1 272.8 584.4 272.5 585.7 272.3 586.9 271.6 588.2 271.3 589.4 270.5 591.0 271.3 592.5 272.1 593.8 272.1 595.0 272.0 596.3 271.9 597.5 271.3 598.7 271.5 600.3 271.9 601.9 272.0 603.4 271.9 605.0 272.1 606.6 271.9 608.0 272.1 609.3 271.3 610.3 270.2 611.2 269.1 M600.3 300.3 601.5 300.6 602.6 301.0 603.6 301.8 604.9 301.8 605.8 302.7 607.1 302.8 608.2 303.2 609.2 304.1 610.5 304.1 611.6 304.9 612.7 305.2 613.9 305.6 615.2 305.6 616.3 306.1 617.6 306.3 618.6 307.2 619.8 307.5 621.0 307.8 622.2 308.1 623.4 308.4 624.5 309.1 625.7 309.3 626.9 309.7 M510.2 258.5 510.6 259.7 510.4 261.0 511.1 262.2 510.9 263.5 511.4 264.7 511.2 266.1 512.0 267.2 511.8 268.5 512.3 269.7 512.7 271.0 513.0 272.2 512.8 273.5 513.2 274.8 513.5 276.0 513.5 277.2 513.4 278.5 514.0 279.7 514.0 281.0 514.4 282.2 514.5 283.5 514.3 284.8 514.5 286.0 515.0 287.2 515.3 288.5 515.4 289.7 515.3 291.0 515.5 292.2 515.8 293.5 516.0 294.7 515.9 296.0 516.1 297.3 516.3 298.5 516.7 299.8 517.2 301.0 517.5 302.2 517.4 303.5 517.7 304.7 517.7 306.0 518.3 307.2 518.0 308.5 518.4 309.7 518.3 311.0 518.4 312.3 518.8 313.5 519.2 314.7 518.9 316.0 519.3 317.3 518.3 318.4 517.7 319.8 517.0 321.1 515.8 322.4 516.9 323.5 517.8 324.6 518.6 326.0 519.3 327.3 520.4 328.3 521.0 329.8 M493.0 372.2 494.1 373.0 495.2 373.7 496.3 374.5 497.5 375.1 498.5 376.1 499.7 376.3 501.0 376.5 502.3 376.3 503.5 376.6 504.7 376.3 506.0 376.5 507.2 375.9 508.5 376.3 509.6 376.2 511.0 376.6 512.2 377.3 513.5 377.9 514.7 378.5 516.1 378.5 517.2 379.4 518.5 379.3 519.9 379.7 520.6 380.9 521.1 382.2 521.7 383.6 522.9 384.6 523.7 385.9 523.8 387.3 524.5 388.4 525.0 389.7 525.1 391.0 525.5 392.3 526.0 393.5 526.3 394.8 527.1 395.9 527.0 397.3 527.5 398.5 528.3 399.7 528.7 400.9 528.9 402.2 529.3 403.5 529.9 404.7 530.4 405.9 530.6 407.2 531.2 408.5 531.1 409.8 531.1 411.0 531.7 412.2 531.7 413.5 531.7 414.8 532.3 416.0 532.1 417.4 532.9 418.6 534.0 419.7 534.8 421.0 535.0 422.3 535.7 423.4 536.2 424.5 536.4 425.8 536.9 427.0 537.6 428.0 538.0 429.2 M520.5 364.0 520.7 365.4 520.6 366.8 520.5 368.2 520.2 369.6 520.3 371.0 520.1 372.2 519.9 373.5 519.7 374.7 520.0 375.9 520.0 377.3 520.0 378.6 520.2 379.8 520.9 381.0 521.0 382.2 M593.0 360.2 593.4 361.4 593.6 362.6 594.1 363.7 594.4 364.9 595.0 365.9 595.0 367.2 595.2 368.5 595.8 369.7 596.0 371.0 595.8 372.5 596.9 373.1 597.8 374.0 599.0 374.6 599.9 375.4 600.9 376.2 602.1 376.8 603.6 377.0 604.7 378.0 606.1 378.4 606.8 380.0 M593.0 360.2 592.7 358.9 592.1 357.6 591.8 356.2 591.6 354.8 591.1 353.4 589.9 352.6 589.0 351.5 588.0 350.5 587.2 349.3 585.9 348.6 584.9 347.6 584.1 346.4 582.8 345.7 582.0 344.5 581.2 343.3 579.9 342.8 578.8 342.2 577.8 341.4 576.7 340.6 575.5 340.1 574.4 339.4 573.3 338.6 572.8 337.3 572.2 336.0 571.5 334.8 570.8 333.5 570.5 332.3 570.6 331.0 570.6 329.7 570.2 328.5 570.0 327.2 569.8 326.0 569.3 324.8 569.2 323.5 568.8 322.3 568.5 321.0 569.2 319.8 569.7 318.5 570.3 317.2 570.9 315.9 571.8 314.9 572.8 314.0 573.6 313.0 574.6 312.0 575.2 311.0 575.5 309.7 575.9 308.5 575.6 307.2 575.9 306.0 575.9 304.7 575.9 303.5 576.7 302.3 576.7 301.0 577.2 299.8 M908.4 263.1 907.2 262.4 906.1 261.5 904.7 261.0 903.5 260.2 902.5 259.2 901.7 258.1 900.7 257.2 899.7 256.2 898.6 255.4 897.5 254.6 896.8 253.3 895.7 252.4 895.5 251.1 895.2 249.8 894.5 248.6 894.2 247.2 893.8 246.0 893.9 244.5 893.0 243.6 892.4 242.5 892.2 241.2 891.6 240.1 890.7 239.1 890.5 237.8 890.0 236.7 889.3 235.7 888.5 234.7 888.3 233.4 887.6 232.3 887.1 231.2 886.8 230.0 886.0 228.8 884.7 228.1 883.2 227.9 882.1 227.1 880.7 227.3 879.5 228.0 877.9 227.8 877.2 228.8 876.3 229.6 875.3 230.3 874.3 231.1 872.8 231.4 871.6 232.2 870.3 232.9 869.3 231.9 868.2 231.1 867.5 230.0 866.3 230.8 865.3 231.8 864.8 233.2 864.8 234.7 864.4 236.0 864.1 237.4 863.5 238.7 863.3 240.0 863.0 241.2 862.8 242.4 862.5 243.6 862.3 244.9 861.8 246.0 861.9 247.3 861.3 248.5 861.6 249.8 862.0 251.1 862.0 252.4 861.9 253.7 862.1 255.0 862.1 256.3 862.4 257.6 862.5 258.9 862.3 260.2 862.3 261.6 861.7 262.8 861.3 264.1 861.1 265.4 860.9 266.7 860.3 267.9 860.2 269.2 859.6 270.3 859.6 271.6 859.0 272.7 858.5 273.8 857.8 275.1 856.6 275.6 855.5 276.6 854.2 276.8 853.0 277.5 851.8 277.8 M851.8 277.8 851.6 279.0 852.0 280.2 851.9 281.5 852.2 282.7 852.3 283.9 852.4 285.1 852.7 286.3 852.9 287.6 852.2 288.8 852.3 290.2 851.5 291.4 851.6 292.8 851.3 294.1 851.0 295.4 850.4 296.6 850.0 297.8 850.1 299.0 849.7 300.2 849.7 301.5 849.1 302.7 849.0 303.9 849.0 305.2 849.0 306.4 848.5 307.6 848.7 308.8 848.1 310.0 848.3 311.3 848.3 312.5 847.9 313.7 848.0 314.9 848.0 316.2 848.5 317.5 848.3 318.9 848.8 320.1 848.7 321.5 849.4 322.7 849.2 324.1 849.3 325.4 849.8 326.6 M856.1 276.4 856.5 277.6 857.1 278.8 857.3 280.1 857.5 281.4 858.2 282.6 858.4 283.9 859.0 285.0 859.2 286.3 859.4 287.6 860.0 288.8 860.2 290.0 860.9 291.1 860.9 292.4 861.7 293.5 861.6 294.8 861.9 296.1 862.3 297.3 862.9 298.4 863.4 299.5 863.8 300.8 863.9 302.0 864.5 303.2 864.8 304.4 865.8 305.2 866.1 306.4 866.4 307.6 867.1 308.6 867.7 309.7 868.5 310.7 869.0 311.8 869.5 312.9 869.7 314.3 870.3 315.5 871.2 316.6 871.4 318.1 872.3 319.2 M831.2 307.1 832.0 308.3 832.1 309.7 832.9 310.9 833.2 312.3 833.8 313.6 834.2 314.9 834.7 316.1 835.5 317.2 836.1 318.3 836.3 319.7 837.2 320.7 837.3 322.0 837.6 323.3 838.2 324.4 838.8 325.6 839.2 326.8 839.1 328.2 839.9 329.2 840.0 330.5 M840.0 330.5 841.2 330.3 842.4 330.0 843.6 329.5 844.8 329.4 846.0 329.0 847.2 328.9 848.4 328.6 849.6 328.3 850.7 327.9 852.0 327.7 853.1 327.3 854.3 327.0 855.5 326.8 856.8 326.9 857.9 326.4 859.2 326.4 860.3 325.6 861.6 325.8 862.7 325.3 863.9 325.2 865.1 324.8 866.3 324.6 867.5 324.1 868.7 324.1 869.8 323.5 871.0 323.2 872.3 323.1 M839.1 374.5 839.4 373.3 839.9 372.2 840.4 371.0 840.8 369.8 840.7 368.5 841.3 367.4 841.4 366.2 841.7 365.0 842.4 364.0 842.5 362.8 842.8 361.5 842.9 360.3 843.1 359.1 843.4 357.9 M814.5 352.2 815.7 352.9 816.6 353.9 817.5 354.9 818.6 355.7 819.6 356.4 820.5 357.2 821.3 358.1 822.0 359.2 823.2 359.7 824.4 360.5 825.5 361.3 827.0 361.9 826.2 363.1 826.1 364.6 825.1 365.6 824.8 366.9 824.2 368.0 823.6 369.3 823.7 370.7 823.6 372.0 823.7 373.5 824.4 374.8 824.7 376.2 825.5 377.5 826.4 378.3 827.2 379.4 828.3 380.0 829.1 381.0 830.4 381.5 831.3 382.7 832.6 383.3 833.6 384.3 833.2 385.5 832.5 386.5 831.4 387.3 830.9 388.5 829.7 389.7 829.0 391.3 827.8 392.1 826.8 393.0 825.6 393.6 824.4 394.3 823.4 395.3 823.1 396.5 822.5 397.6 822.1 398.8 822.0 400.1 M768.1 408.1 768.4 409.3 768.6 410.6 768.7 411.9 769.2 413.1 769.6 414.3 769.5 415.7 770.1 416.9 M785.7 410.0 785.6 411.5 784.7 412.7 784.4 414.1 784.1 415.5 783.8 416.9 783.2 418.0 782.7 419.1 782.4 420.3 782.0 421.5 782.0 422.9 781.1 423.8 780.5 424.8 779.4 425.5 778.8 426.4 777.7 427.3 776.4 427.6 775.2 428.1 774.0 428.9 772.7 428.7 771.4 428.4 770.0 428.6 770.0 430.1 769.4 431.5 769.5 433.0 769.1 434.4 768.8 435.6 768.0 436.7 767.8 437.9 767.4 439.1 767.0 440.3 766.8 441.5 766.1 442.6 765.9 443.8 765.5 445.0 765.3 446.2 764.7 447.6 763.9 448.8 763.2 449.9 762.0 450.4 760.8 451.1 759.7 451.7 758.4 452.0 757.2 452.8 756.5 454.1 755.3 454.9 754.5 456.1 753.2 456.7 752.0 457.5 750.6 458.0 749.3 458.6 747.8 458.9 746.8 459.6 745.3 459.4 744.0 458.6 742.9 457.7 741.4 457.4 740.1 456.7 738.8 455.9 M760.1 586.6 761.4 587.7 762.0 589.1 761.8 587.9 761.6 586.6 761.7 585.3 761.8 584.1 761.4 582.9 762.6 582.4 763.9 582.4 765.1 581.8 766.3 581.4 767.6 581.3 768.9 581.1 770.2 580.8 M728.0 507.0 728.4 508.4 729.0 509.8 729.4 511.2 730.2 512.4 730.8 513.7 731.9 514.4 732.7 515.5 734.0 516.1 734.6 517.4 735.8 518.1 736.4 519.3 737.4 520.2 738.6 520.9 739.8 521.5 741.0 522.2 742.0 523.1 742.9 524.2 744.2 524.6 745.2 525.6 746.3 526.4 747.4 527.2 748.6 527.8 749.7 528.5 750.8 529.3 751.6 530.5 752.9 531.0 753.9 531.9 755.1 532.7 756.2 533.5 757.2 534.3 758.1 535.2 758.7 536.5 760.0 537.2 760.6 538.5 761.7 539.2 762.5 540.2 763.6 541.1 764.2 542.4 765.3 543.2 766.0 544.3 766.8 545.4 767.9 546.3 768.4 547.4 768.8 548.6 769.6 549.5 770.2 550.6 770.7 551.7 771.6 552.7 772.0 553.9 772.4 555.2 772.7 556.5 M564.9 579.5 565.4 580.8 566.2 581.8 566.5 583.1 567.1 584.3 567.9 585.3 568.4 586.6 569.2 587.7 569.3 589.0 570.1 590.1 571.0 591.2 571.3 592.4 571.4 593.6 572.0 594.7 572.2 596.0 572.9 597.1 572.3 598.5 572.0 600.0 572.2 601.5 571.7 603.0 571.7 604.3 571.3 605.6 571.0 606.9 570.9 608.2 571.1 609.5 571.0 610.8 570.5 612.1 570.4 613.4 570.5 614.7 570.3 616.0 569.9 617.3 570.0 618.7 569.2 619.7 568.8 620.9 M604.9 596.1 604.6 594.9 604.4 593.7 604.1 592.5 603.9 591.2 604.3 590.0 605.0 588.8 605.9 587.8 606.2 586.5 607.0 585.4 607.5 584.3 607.8 583.1 607.9 581.8 608.7 580.8 609.0 579.6 609.8 578.5 610.4 577.2 611.2 575.9 611.9 574.7 612.1 573.4 612.8 572.2 613.2 571.0 613.9 569.7 613.1 568.7 613.0 567.4 612.4 566.3 612.3 565.0 611.7 563.9 611.5 562.5 611.0 561.2 610.4 560.0 M635.2 594.8 635.2 596.1 635.8 597.2 635.5 598.6 635.8 599.8 636.1 601.0 636.3 602.5 636.9 603.9 636.7 605.4 637.1 606.9 637.8 608.3 638.5 609.7 639.1 611.2 M670.4 591.2 671.1 592.3 671.8 593.5 672.1 594.8 672.5 596.0 673.1 597.2 673.7 598.5 674.6 599.7 675.2 601.0 M708.4 560.0 708.3 561.3 708.6 562.6 709.0 563.9 708.8 565.2 708.8 566.5 709.1 567.8 709.1 569.1 709.4 570.4 709.5 571.7 709.8 573.0 710.1 574.3 710.4 575.6 711.0 576.9 711.3 578.2 711.5 579.5 711.5 581.0 711.7 582.5 712.3 583.9 712.5 585.3 713.0 586.7 713.8 587.9 714.3 589.4 716.2 590.3 M360.0 575.4 360.5 576.5 361.1 577.6 361.4 578.8 362.2 579.7 362.9 580.9 364.0 581.6 365.0 582.4 365.8 583.5 366.9 584.2 367.8 585.1 368.8 586.0 369.3 587.2 370.0 588.3 371.1 589.0 371.9 589.9 372.7 590.9 373.5 591.8 374.1 592.8 375.1 593.7 376.1 594.5 376.7 595.7 377.8 596.5 378.9 597.2 379.5 598.5 380.5 599.3 381.5 600.1 382.3 601.1 383.1 602.1 384.2 602.8 385.1 603.7 386.0 604.5 386.8 605.5 387.1 606.8 387.4 608.1 387.7 609.4 388.5 610.5 388.7 611.8 388.8 613.1 389.0 614.4 389.4 615.6 389.5 616.9 390.0 618.2 389.9 619.7 390.9 620.6 391.8 621.6 392.8 622.6 393.7 623.6 394.2 625.1 395.3 625.7 396.7 626.1 397.7 626.9 398.7 627.7 399.7 628.4 400.9 629.1 401.8 630.1 403.0 630.5 404.0 631.3 405.0 632.2 406.1 632.8 407.3 633.4 408.4 633.9 409.4 634.5 410.5 635.1 411.5 635.8 412.7 636.0 413.6 636.6 414.4 635.6 415.1 634.5 416.1 633.6 416.6 632.4 417.2 631.2 417.9 630.2 418.8 629.3 419.1 628.0 419.9 627.1 420.2 625.8 420.9 624.8 421.5 623.7 422.4 622.9 423.5 622.1 424.8 621.7 426.1 621.2 427.4 620.9 428.7 620.7 430.0 620.9 431.3 621.2 432.6 621.5 433.9 621.5 435.2 621.9 436.5 621.6 437.7 622.3 439.0 622.1 440.2 622.2 441.4 622.7 442.5 622.8 443.6 623.7 444.5 624.7 445.0 626.1 445.8 627.1 447.0 628.0 447.9 629.0 449.3 629.5 450.4 630.4 451.5 631.3 452.6 632.3 452.8 633.5 453.4 634.6 454.2 635.5 454.7 636.6 455.2 637.7 455.5 638.9 456.1 639.9 456.4 641.1 457.3 642.0 457.5 643.3 458.3 644.2 458.9 645.2 459.7 646.3 460.4 647.3 460.7 648.7 461.4 649.7 462.3 650.7 463.3 651.6 464.0 652.7 464.6 653.8 465.2 654.9 465.7 656.1 466.7 657.0 467.1 658.2 467.7 659.3 468.7 660.1 469.6 661.4 470.5 662.6 471.7 663.6 472.5 664.6 473.0 665.8 473.8 666.8 474.2 668.0 474.4 669.3 474.3 670.7 474.5 672.0 474.7 673.3 475.3 674.5 476.0 675.7 476.4 677.0 476.7 678.3 477.0 679.7 477.9 680.6 478.0 681.9 478.5 682.9 479.2 684.0 480.0 684.9 480.2 686.2 481.4 686.9 482.4 687.8 483.5 688.5 484.5 689.4 485.7 689.8 486.6 690.6 487.7 691.2 488.8 691.7 490.0 692.1 491.1 692.4 492.4 692.9 493.7 693.3 494.8 694.1 496.2 694.4 497.5 694.9 498.8 695.1 500.0 695.4 501.4 695.4 502.7 695.4 503.9 695.9 505.3 696.1 506.5 696.7 507.9 696.9 509.0 697.7 510.4 697.9 512.0 698.3 513.6 699.0 M469.2 532.0 470.2 533.0 471.5 533.3 472.3 534.5 473.5 535.1 474.8 535.1 476.0 535.8 477.2 536.0 478.4 536.5 479.7 536.9 481.0 537.5 482.1 538.4 483.6 538.5 484.7 539.3 486.1 539.4 487.3 539.9 488.6 540.3 489.7 541.1 491.0 541.2 492.2 541.8 493.5 541.9 494.7 542.6 496.0 543.0 497.3 543.1 498.5 543.7 499.7 544.1 501.0 544.0 502.2 544.4 503.5 544.4 504.8 544.6 506.0 545.1 507.2 545.4 508.5 545.6 509.8 545.5 511.0 546.0 512.2 546.7 513.4 547.1 514.7 547.5 516.1 547.2 517.2 546.4 518.6 546.3 519.7 545.5 521.1 544.8 522.2 545.5 523.6 545.4 524.7 546.0 526.0 546.0 527.2 546.7 528.5 546.6 529.7 547.0 530.9 546.8 532.3 546.6 533.5 545.9 534.7 545.4 536.0 545.2 537.2 544.6 538.5 544.8 539.7 544.5 541.0 544.9 542.3 544.8 543.6 544.2 544.8 544.9 546.0 545.4 547.2 545.9 548.5 546.4 549.8 546.6 550.9 547.4 552.3 547.4 553.6 547.8 554.6 549.1 556.0 550.0 M538.0 429.5 539.1 430.4 539.8 431.7 541.0 432.5 542.1 433.9 543.6 434.9 544.6 436.4 546.1 437.4 547.1 438.9 548.4 440.0 548.9 441.4 549.7 442.6 550.5 443.8 M610.5 536.2 610.1 537.5 609.9 538.7 609.4 540.0 609.4 541.3 609.3 542.6 608.5 543.7 608.3 545.0 608.5 546.3 608.7 547.5 609.1 548.7 609.1 550.0 609.1 551.3 609.2 552.5 609.3 553.8 610.0 555.0 609.8 556.3 610.1 557.5 610.4 558.7 610.5 560.0 M605.9 380.0 606.8 380.9 607.5 381.8 608.1 382.9 608.8 383.9 609.2 385.3 609.4 386.8 609.5 388.3 609.7 389.7 609.0 391.0 608.5 392.3 607.4 393.3 606.9 394.7 605.5 395.1 604.3 395.9 603.3 397.0 602.0 397.5 600.6 398.0 599.4 398.9 598.1 399.5 598.4 401.0 598.9 402.4 599.0 403.9 599.3 405.3 599.5 406.7 599.6 408.0 600.0 409.3 599.1 410.5 598.6 411.9 598.2 413.3 597.1 414.0 596.6 415.1 595.9 416.1 594.9 417.1 594.7 418.4 594.6 419.7 594.1 421.0 594.5 422.5 594.4 424.0 595.1 425.4 594.9 427.0 596.2 427.9 597.0 429.1 597.5 430.4 598.4 431.5 599.1 432.7 600.2 433.5 600.9 434.8 601.9 435.7 602.9 436.7 603.8 437.8 604.7 438.8 605.8 439.6 606.8 440.6 607.8 441.3 608.6 442.3 609.1 443.5 609.7 444.7 611.1 444.8 612.2 445.5 613.6 445.6 614.7 446.4 615.5 447.6 616.6 448.3 616.1 449.5 616.1 450.8 615.6 451.9 615.3 453.1 614.5 454.2 614.6 455.6 613.8 456.8 613.8 458.0 614.3 459.2 615.2 460.1 616.0 461.0 616.5 462.3 617.8 462.6 618.9 463.3 620.3 463.6 621.2 464.6 622.3 465.2 623.6 465.5 624.4 466.5 625.5 467.0 626.6 467.8 627.1 469.2 627.6 470.5 628.1 471.9 628.4 473.2 628.7 474.5 629.3 475.7 630.0 476.7 631.0 477.5 631.4 478.7 632.2 479.6 633.3 480.5 634.0 481.5 634.0 482.9 633.8 484.2 633.4 485.6 631.9 486.6 630.3 487.4 629.2 488.3 628.6 489.4 628.0 490.7 627.7 492.0 627.3 493.3 627.1 494.6 626.7 495.9 626.7 497.2 626.7 498.4 626.5 499.6 626.6 500.8 626.3 502.0 626.1 503.3 625.2 504.4 625.1 505.8 624.7 507.0 624.1 508.1 623.7 509.3 623.4 510.5 622.7 511.6 622.7 512.9 622.0 514.0 621.5 515.1 621.4 516.3 620.9 517.5 620.3 518.5 619.7 519.8 619.1 521.1 618.4 522.3 617.6 523.5 616.7 524.6 616.3 525.8 615.4 526.8 614.9 528.1 614.4 529.3 613.7 530.4 612.9 531.4 612.7 532.8 612.1 534.0 611.5 535.1 610.9 536.3 610.2 537.4 610.0 538.7 609.8 540.0 M633.8 480.6 634.2 479.3 634.6 477.9 635.1 476.4 636.6 476.0 638.1 475.9 639.4 476.1 640.8 476.2 642.1 476.7 642.8 475.1 644.0 473.8 644.9 472.2 645.8 470.7 647.0 469.9 648.0 469.0 648.9 467.9 648.7 466.6 649.0 465.3 648.8 464.0 649.9 462.1 651.2 460.9 652.8 460.3 654.2 459.8 655.7 459.9 657.0 459.7 658.3 459.3 659.7 458.9 660.9 459.5 662.1 460.0 663.5 460.0 664.9 459.0 666.5 458.2 667.8 457.0 669.3 456.1 670.4 455.3 671.3 454.2 672.4 453.1 673.9 454.0 675.2 455.2 676.7 454.8 678.0 454.1 678.9 453.1 680.1 451.8 681.1 450.3 681.7 449.2 682.6 448.4 683.3 447.4 684.2 446.5 684.7 445.4 685.7 444.6 686.4 443.6 686.9 442.5 687.8 441.4 688.9 440.5 690.1 439.7 691.6 439.3 692.9 438.6 693.2 437.3 693.7 436.1 693.5 434.6 694.4 433.6 694.7 432.5 696.1 432.2 697.4 432.5 698.8 432.5 699.6 433.5 700.5 434.3 701.7 434.9 702.5 435.8 703.9 436.2 705.1 437.1 706.5 437.5 707.7 438.1 709.1 438.0 710.4 437.9 711.7 438.1 713.0 438.6 714.3 438.8 715.6 438.3 716.9 437.7 718.3 437.8 719.7 436.7 721.3 435.5 722.6 436.6 724.0 437.7 725.7 438.3 726.9 439.3 728.4 439.0 730.1 438.7 730.8 437.4 731.1 435.9 732.1 434.7 732.4 433.4 732.7 432.1 732.9 430.8 734.0 429.0 734.9 427.9 736.0 427.0 736.5 425.6 736.9 424.2 737.7 423.0 738.7 422.0 739.6 420.9 740.6 420.2 741.6 419.6 742.6 418.9 743.5 418.0 744.5 416.5 745.5 415.2 746.2 413.9 746.8 412.5 747.6 411.3 747.5 409.9 747.8 408.6 747.9 407.3 748.3 406.1 748.4 404.8 748.6 403.4 748.5 402.1 748.3 400.8 748.7 399.5 748.5 398.2 748.4 396.9 748.4 395.6 749.5 393.7 M653.0 433.1 652.6 434.4 652.1 435.7 651.6 437.1 652.3 438.4 652.6 439.8 653.4 441.1 653.8 442.5 653.6 444.0 653.4 445.4 653.1 446.9 652.6 448.3 652.1 449.5 651.8 450.8 651.2 451.9 650.3 453.0 649.8 454.2 649.5 455.7 649.3 457.1 649.0 458.6 649.0 460.1 649.1 461.4 649.0 462.7 648.9 464.0 M727.0 440.2 727.8 441.3 727.9 442.8 728.7 443.9 729.2 445.2 729.7 446.6 730.8 447.5 732.0 448.2 732.9 449.3 734.0 450.1 734.7 451.4 735.7 452.4 736.8 453.0 737.8 453.7 738.8 454.4 739.7 455.2 M739.7 455.2 739.0 456.2 738.2 457.1 737.4 458.0 736.7 459.0 736.0 459.9 735.5 461.1 734.8 462.1 734.1 463.1 733.0 463.8 732.5 465.1 731.7 466.1 730.8 467.0 729.7 467.7 728.9 468.7 728.4 469.9 727.3 470.7 726.5 471.6 725.9 472.8 725.1 473.9 723.8 474.2 722.7 475.0 721.6 475.7 720.2 475.9 719.2 476.7 M747.5 471.8 747.2 473.1 746.9 474.4 746.5 475.7 745.7 476.8 744.8 477.9 743.6 478.7 742.7 479.7 741.8 480.6 740.7 481.2 739.6 481.8 738.8 482.8 737.7 483.4 736.7 484.4 735.9 485.6 735.0 486.6 733.8 487.3 732.8 488.4 732.0 489.5 731.0 490.5 729.8 491.2 728.8 492.1 728.1 493.4 727.0 494.2 726.0 495.2 724.8 496.1 723.7 496.9 722.4 497.5 721.1 498.1 720.1 498.9 719.2 499.7 718.3 500.7 717.3 501.4 716.3 502.2 715.3 502.8 714.3 503.6 713.2 504.1 712.6 505.1 711.6 506.4 711.4 507.9 M634.2 481.6 634.6 482.9 634.4 484.3 635.0 485.6 634.9 487.0 635.2 488.4 M770.1 416.9 771.0 416.0 771.9 415.0 773.1 414.6 774.1 413.8 774.9 412.7 776.0 412.1 777.1 411.4 778.4 411.1 779.3 410.0 780.6 409.6 781.7 408.9 783.0 408.3 784.2 407.6 785.4 406.9 786.5 406.0 787.7 405.1 788.8 405.8 790.2 405.9 791.4 406.5 792.4 407.1 792.9 408.4 792.9 409.8 793.6 410.8 795.0 411.2 796.5 411.3 798.0 411.5 799.5 411.8 800.7 412.4 801.8 413.1 802.9 413.7 804.1 414.3 805.3 414.8 806.1 416.0 807.2 416.9 806.4 417.9 806.3 419.3 805.6 420.4 M728.3 506.3 730.0 505.8 731.6 505.1 732.7 504.4 733.9 504.1 735.0 503.5 736.0 503.0 737.0 502.1 738.2 501.8 739.3 501.2 740.3 500.6 741.3 499.9 742.5 499.7 743.7 499.3 745.0 499.2 746.3 499.2 747.5 498.8 748.7 498.5 750.0 498.7 751.2 498.3 752.5 498.1 753.7 498.0 755.0 498.2 756.3 497.9 757.5 497.5 758.7 497.4 760.0 497.5 761.2 497.2 762.3 498.2 763.5 499.0 764.5 500.0 765.5 501.1 766.7 501.7 768.0 501.7 769.2 501.4 770.5 501.5 771.7 501.0 773.0 501.2 774.3 500.9 775.5 500.7 776.8 500.2 778.1 500.3 779.3 500.1 780.6 499.9 781.8 499.5 783.1 499.5 784.1 500.2 785.3 500.6 786.2 501.5 787.3 502.0 788.4 502.6 789.4 503.2 790.4 503.9 791.4 504.6 792.5 505.2 793.4 506.0 794.6 506.5 795.6 507.1 796.6 507.9 797.8 508.3 798.8 508.8 799.8 509.6 800.9 510.2 801.9 510.8 802.9 511.5 804.1 512.0 805.0 512.8" stroke="#1a1a1a" stroke-width="0.6"/><path d="M145.7 186.6 146.5 187.8 147.3 189.0 147.8 190.5 149.3 191.6 149.2 193.0 149.6 194.2 150.8 195.3 151.4 196.8 152.8 197.8 153.4 199.3 154.6 200.3 155.6 201.7 156.1 203.1 156.5 204.5 157.7 205.6 157.9 206.7 159.8 207.7 161.4 206.7 163.4 207.0 164.7 208.1 167.1 207.2 167.1 205.6 168.3 204.7 M159.7 207.6 160.5 208.6 161.7 209.5 161.2 211.4 162.5 211.9 163.5 212.8 164.3 213.7 165.3 215.3 166.7 216.4 167.8 217.2 168.7 218.2 169.9 219.0 171.0 219.7 171.8 220.9 172.9 221.7 174.2 222.2 175.1 223.3 176.2 224.1 176.9 225.2 178.2 225.9 179.6 224.7 181.7 224.2 181.2 222.7 181.8 221.6 181.7 220.2 180.7 219.1 180.6 217.7 179.9 216.4 180.2 214.7 179.9 213.2 179.0 211.7 178.4 209.9 177.1 209.2 176.6 207.9 175.6 206.9 174.6 205.8 173.4 204.9 172.7 203.6 172.1 202.5 171.1 201.7 170.6 200.6 169.7 199.4 170.0 198.0 169.7 196.8 169.7 195.2 169.2 193.8 168.4 192.4 168.3 191.1 168.4 189.8 167.6 188.6 167.9 187.3 M164.4 220.6 165.2 221.6 166.6 221.8 167.3 222.8 168.3 223.7 169.2 224.8 170.3 225.6 171.2 226.6 172.5 227.1 174.0 227.8 175.6 228.4 177.0 229.5 178.6 230.3 180.4 229.8 182.1 230.2 183.9 231.5 185.9 232.2 187.0 234.3 M170.5 186.0 171.3 187.3 172.1 188.6 173.2 189.7 173.9 190.9 173.9 192.3 174.4 193.6 174.6 194.9 174.7 196.3 175.4 197.5 176.2 198.7 176.8 200.1 178.0 201.1 179.6 201.5 180.5 202.9 181.8 203.4 183.0 204.1 184.3 204.7 185.8 205.0 186.7 205.9 188.0 206.9 187.8 208.6 188.7 210.2 188.5 211.5 188.1 212.7 187.7 213.6 188.9 214.1 190.5 214.3 191.9 215.8 192.1 217.7 192.3 219.0 192.2 220.2 193.1 221.3 193.0 222.7 192.9 224.1 193.0 225.3 193.4 226.6 193.7 227.9 194.1 229.2 194.0 230.5 193.0 231.8 193.1 233.1 193.8 234.2 194.0 235.5 193.7 237.0 193.0 238.3 191.9 239.4 191.0 240.7 189.9 241.7 189.8 243.3 189.3 244.6 187.9 245.4 187.0 247.6 185.9 248.8 184.4 249.5 183.4 250.4 181.9 250.5 180.6 251.0 M164.4 220.4 164.2 221.7 163.9 222.9 163.7 224.2 162.8 225.3 162.8 226.6 163.6 228.0 163.0 229.5 162.9 230.9 163.3 232.3 163.7 233.5 163.7 234.8 164.2 236.0 164.4 237.2 163.5 238.5 164.0 239.8 164.2 241.0 163.9 242.3 164.5 243.5 164.1 244.8 164.3 246.0 165.1 247.2 165.1 248.3 166.2 249.1 167.5 250.2 166.2 251.2 165.5 252.6 165.0 254.3 164.8 256.1 163.7 257.1 163.8 258.5 163.3 259.8 162.7 261.1 161.9 262.6 162.5 263.7 163.7 264.4 165.0 264.3 166.2 264.5 167.5 265.1 169.0 265.2 170.0 266.2 171.4 266.7 172.8 267.3 173.5 268.7 175.0 269.7 175.7 271.3 175.2 272.8 175.2 274.4 175.2 275.9 175.7 277.6 176.5 279.2 177.5 280.0 179.0 280.0 180.0 281.1 181.2 280.6 182.5 280.5 183.8 280.8 185.0 280.4 186.2 280.7 187.5 281.1 188.7 281.4 190.0 281.2 191.3 282.2 192.7 282.9 194.0 283.8 195.2 284.1 196.5 284.0 197.7 284.3 199.3 284.4 200.9 285.0 202.4 284.9 203.8 285.5 205.4 285.9 206.4 285.0 207.6 284.9 208.9 285.0 210.0 284.6 211.2 283.9 212.5 283.9 213.8 284.2 215.0 283.8 216.2 284.0 217.6 283.8 219.4 284.7 220.8 284.7 222.2 284.6 223.6 283.8 225.0 284.0 M162.2 264.1 161.5 265.6 161.1 267.2 161.3 268.6 160.3 269.7 159.9 270.9 160.3 272.3 159.2 273.4 159.3 274.8 158.8 276.0 157.8 277.1 157.5 278.4 157.7 279.9 156.9 281.0 156.4 282.2 156.1 283.6 155.8 284.9 155.2 286.1 154.3 287.2 154.4 288.7 153.4 289.7 153.1 291.0 152.9 292.4 152.2 293.6 151.4 294.7 151.0 296.0 150.9 297.4 149.6 298.3 149.4 300.0 M149.4 300.0 148.5 301.1 147.7 302.3 147.9 303.9 147.1 305.1 146.7 306.5 145.4 307.4 145.2 308.9 144.5 310.0 143.6 310.8 142.4 311.5 141.7 312.6 141.5 313.9 140.7 315.2 139.2 316.0 138.7 317.5 137.9 318.7 137.9 320.2 137.3 321.4 136.1 322.6 136.7 323.7 137.5 324.9 137.1 326.1 136.9 327.5 136.3 328.6 136.5 330.1 135.3 331.2 135.9 332.6 135.0 333.7 135.2 335.0 135.1 336.2 135.6 337.8 135.8 339.2 136.1 340.7 135.8 342.0 135.0 343.1 135.5 344.5 135.8 346.0 135.9 347.6 135.6 348.9 135.0 350.1 134.4 351.3 133.9 352.6 133.0 353.7 133.0 355.1 132.3 356.2 132.1 357.7 131.1 358.6 130.5 359.8 129.4 360.7 128.7 361.8 127.3 362.4 126.6 363.7 126.1 365.2 125.0 366.2 124.7 367.6 125.7 368.7 125.2 370.0 125.7 371.2 126.3 372.5 126.6 373.9 127.6 375.0 128.0 376.3 128.3 377.6 128.5 378.9 129.5 380.0 128.9 381.2 128.9 382.5 128.8 383.7 128.8 385.0 128.6 386.3 128.6 387.6 128.2 388.8 127.9 390.0 127.1 391.2 127.5 392.5 127.5 393.8 127.4 395.0 126.6 396.4 127.2 397.7 128.0 398.8 128.9 399.9 129.6 401.1 130.2 402.4 130.7 403.7 131.6 404.8 131.9 406.2 132.7 407.4 132.7 409.0 133.3 410.0 133.7 411.2 134.0 412.5 133.3 413.5 133.3 415.1 132.6 416.1 134.1 417.1 135.1 418.7 136.1 419.8 137.1 420.8 138.4 421.8 138.7 423.4 139.9 425.1 139.3 426.5 138.8 428.0 M138.1 418.1 138.8 417.0 140.0 416.4 141.4 416.4 142.9 417.1 143.2 418.9 142.0 419.5 140.6 419.7 139.8 420.8 138.8 422.0 139.7 422.9 140.4 423.8 140.9 425.2 142.0 426.3 140.6 428.0 M179.4 406.2 180.8 405.3 181.4 406.7 181.8 408.5 180.9 409.8 179.9 410.6 178.3 408.6 179.4 407.6 179.4 406.2 M138.0 428.0 138.0 429.3 138.5 430.4 138.8 431.6 139.0 432.8 140.0 433.7 140.0 435.0 140.4 436.3 140.5 437.6 141.0 438.8 141.4 440.1 142.0 441.3 142.1 442.4 141.9 443.7 141.5 444.9 141.5 446.3 141.3 447.6 140.8 448.9 140.1 450.0 140.8 451.1 140.5 452.6 141.2 453.8 141.5 455.0 142.0 456.3 142.3 457.6 143.1 458.7 144.2 459.8 144.1 461.4 144.8 462.6 145.6 463.8 146.2 465.0 146.7 466.3 147.9 467.3 147.9 468.9 149.0 469.9 149.8 471.1 150.2 472.4 150.2 473.8 151.1 474.9 151.0 476.3 151.2 477.7 152.1 478.7 152.6 480.0 152.3 481.3 151.9 482.5 151.6 483.7 151.6 485.0 151.3 486.2 151.6 487.3 152.2 488.6 152.7 489.9 152.9 491.4 153.8 492.3 155.0 493.1 156.4 493.0 157.7 493.6 158.8 494.3 159.9 495.2 161.2 495.6 162.4 496.0 163.8 496.1 165.0 496.7 166.3 497.0 167.5 497.5 168.7 498.2 169.1 499.7 170.5 500.1 170.9 501.6 171.9 502.5 173.5 502.8 174.1 504.0 174.9 505.3 176.0 506.0 177.5 506.2 178.9 506.7 180.3 507.4 180.2 508.9 181.5 509.9 181.8 511.3 182.7 512.2 183.7 513.1 184.8 514.2 186.4 514.0 187.2 515.1 188.1 516.3 188.4 517.7 189.2 518.8 190.2 519.8 190.4 521.2 191.5 522.0 192.6 522.7 193.4 523.7 193.8 525.0 194.1 526.2 194.6 527.5 195.0 528.7 195.2 530.0 195.2 531.2 194.7 532.5 195.5 533.8 194.7 535.0 194.7 536.2 195.4 537.5 194.6 538.9 195.3 540.1 195.6 541.4 196.7 542.4 197.1 543.7 197.6 545.0 197.3 546.4 198.0 547.5 198.6 548.7 198.8 550.0 199.3 551.2 199.8 552.4 200.1 553.7 199.7 555.1 200.4 556.2 200.0 557.6 200.9 558.7 201.1 560.0 201.0 561.3 201.6 562.4 201.7 563.7 201.4 565.1 201.8 566.3 202.2 567.6 202.7 568.8 202.7 570.1 203.0 571.4 203.7 572.5 203.7 573.8 204.5 574.9 204.0 576.3 204.4 577.5 204.3 578.8 204.5 580.0 205.1 581.2 205.4 582.4 204.8 583.8 205.9 584.9 205.8 586.2 206.2 587.5 206.4 588.7 206.3 590.0 206.3 591.3 207.2 592.5 207.1 593.8 207.6 594.9 208.5 596.0 209.6 596.9 210.7 597.8 211.7 598.8 212.7 599.8 213.2 601.3 214.5 602.0 215.7 602.8 216.2 604.3 217.1 605.3 218.3 606.0 219.2 606.9 219.9 608.0 220.7 609.1 221.2 610.3 222.1 611.2 222.7 612.4 223.4 613.4 223.9 614.7 224.3 615.9 225.1 616.9 226.1 617.8 226.9 618.9 227.5 620.0 228.0 621.2 228.5 622.4 229.2 623.6 229.4 624.9 229.1 626.4 230.3 627.6 229.5 628.7 228.9 630.0 228.2 631.1 228.2 632.7 227.4 633.8 226.7 634.9 225.8 635.9 225.0 637.0 M211.4 636.0 212.4 636.9 213.0 638.2 214.0 639.1 214.9 640.0 216.4 640.5 217.1 641.6 217.4 643.0 218.0 644.1 219.1 644.9 219.3 646.5 220.0 647.7 220.7 648.7 221.3 649.9 222.3 650.5 223.3 651.3 224.1 652.1 225.6 652.3 226.7 653.2 227.7 654.3 228.4 655.6 229.3 656.7 230.3 658.0 231.6 658.4 232.9 659.0 234.3 659.7 235.5 659.2 236.8 659.1 237.8 658.5 239.2 658.1 240.3 656.9 239.8 658.5 240.3 659.9 240.8 661.3 241.8 662.2 242.5 663.4 243.1 664.6 243.9 665.7 245.2 666.4 246.0 667.4 246.7 668.8 247.7 669.8 248.8 670.7 250.0 671.6 250.7 672.9 252.0 673.8 252.6 675.2 253.4 676.6 253.2 678.0 253.8 679.2 253.9 680.5 254.6 681.7 254.7 683.0 254.6 684.3 253.8 685.5 253.9 686.8 254.1 688.1 254.0 689.5 253.2 690.6 252.6 691.8 252.5 693.2 252.3 694.5 251.4 695.6 250.7 696.8 250.9 698.3 250.6 699.4 250.6 700.7 250.8 702.0 251.6 703.1 252.9 703.7 253.4 705.1 254.4 706.0 255.5 706.6 256.7 707.2 257.1 708.6 258.5 708.9 259.1 710.0 260.5 710.4 261.4 711.2 262.0 712.4 263.3 713.0 263.8 714.4 265.1 715.0 266.0 716.0 M228.8 558.8 228.9 560.1 228.7 561.3 228.4 562.6 227.9 563.8 227.1 565.0 227.0 566.2 227.0 567.5 226.5 568.7 226.4 569.9 226.9 571.3 226.9 572.5 226.0 573.7 226.0 575.0 226.8 576.2 226.3 577.5 226.7 578.7 226.8 580.0 226.9 581.2 227.1 582.5 227.4 583.7 227.2 585.0 227.4 586.2 227.0 587.6 228.0 588.7 227.4 590.1 228.4 591.2 228.5 592.5 228.2 593.8 228.5 595.1 229.4 596.2 230.4 597.3 230.6 598.7 231.4 599.9 231.5 601.4 232.7 602.3 233.6 603.4 234.2 604.8 235.8 605.2 236.6 606.4 237.2 607.6 237.9 608.9 239.2 609.8 239.8 611.0 240.4 612.4 240.0 613.9 241.1 614.9 241.0 616.3 241.3 617.6 242.2 618.7 242.7 619.9 242.7 621.5 243.6 622.6 244.6 623.6 244.9 625.2 246.4 625.7 247.6 626.5 249.2 627.4 248.7 628.8 248.6 630.1 249.1 631.3 248.9 632.6 250.0 633.7 250.0 635.0 249.9 636.2 249.5 637.6 249.8 638.8 250.5 640.0 250.9 641.2 250.9 642.5 251.0 643.7 250.9 645.3 252.3 645.8 252.5 647.2 253.3 648.1 254.0 649.2 254.8 650.1 255.5 651.3 256.4 652.4 257.0 653.7 257.6 654.9 257.9 656.4 259.2 657.4 259.3 658.7 258.9 660.0 259.6 661.2 260.0 662.4 260.3 663.7 260.0 665.0 260.8 666.2 260.8 667.7 261.5 668.9 262.0 670.2 263.2 671.1 263.9 672.2 264.4 673.4 264.5 674.8 265.0 676.0 M269.2 680.4 269.2 681.7 269.7 683.0 270.1 684.1 270.5 685.5 271.0 686.8 271.6 688.1 272.1 689.4 272.3 690.7 272.8 691.9 273.7 693.0 273.3 694.5 274.1 695.6 274.2 697.0 274.7 698.2 274.7 699.6 275.6 700.7 276.0 701.9 276.4 703.3 276.3 704.6 275.4 705.8 275.5 707.1 275.9 708.3 276.0 709.6 275.5 711.0 276.2 712.2 276.6 713.4 276.3 714.8 276.8 716.0 M228.8 558.8 229.6 559.8 230.3 561.0 231.8 561.3 232.5 562.5 233.3 563.5 234.3 564.3 235.3 565.1 236.8 565.1 237.6 566.0 238.8 566.2 240.1 566.6 241.1 567.6 242.4 567.5 243.0 569.0 244.3 569.9 244.8 571.6 246.1 571.8 247.2 572.3 248.0 573.4 248.9 574.1 250.4 574.0 251.2 575.0 251.8 576.3 252.8 577.4 253.2 578.7 254.1 580.0 254.0 581.2 254.0 582.5 253.7 583.8 253.6 585.0 254.0 586.2 254.2 587.3 254.3 588.7 254.4 590.1 255.3 591.2 255.6 592.4 256.1 593.7 256.0 595.0 256.4 596.3 257.1 597.4 257.3 598.7 257.2 600.0 257.2 601.3 257.4 602.5 258.3 603.6 258.7 604.9 258.6 606.3 259.3 607.5 259.8 608.7 260.2 609.9 260.0 611.4 261.0 612.4 261.2 613.8 261.8 615.0 262.2 616.2 262.2 617.6 262.4 618.9 263.5 620.0 264.0 621.2 264.0 622.6 264.9 623.7 265.4 624.7 265.4 626.3 266.5 627.1 266.9 628.4 267.9 629.2 268.3 630.6 269.3 631.4 270.3 632.3 271.1 633.3 271.4 634.7 272.0 635.8 272.5 637.0 273.9 637.6 274.2 639.0 275.1 639.9 276.0 640.6 277.3 640.9 278.2 641.7 279.2 642.5 280.0 643.5 281.5 643.4 282.5 644.6 283.6 645.7 284.5 646.3 285.5 647.4 285.9 648.7 285.3 650.1 285.5 651.3 286.3 652.5 287.3 653.6 287.1 655.2 288.2 656.2 288.4 657.7 289.3 658.8 289.8 660.3 291.2 660.5 291.8 661.7 293.2 662.0 294.1 662.9 294.8 664.0 295.8 664.8 297.2 665.0 298.2 665.8 299.1 666.7 300.0 667.5 301.1 668.4 302.3 669.2 303.2 670.3 303.8 671.7 304.6 672.6 305.8 673.5 305.8 674.9 306.2 676.0 M306.6 677.9 305.8 679.0 305.7 680.8 304.2 681.1 303.7 682.6 302.4 683.2 301.5 684.3 301.8 685.5 302.4 686.7 302.6 688.0 302.8 689.4 303.8 690.2 304.6 691.3 305.7 692.1 306.7 693.1 308.2 693.6 309.1 694.9 310.5 695.7 311.9 696.3 312.8 697.6 314.1 698.4 315.3 698.9 316.5 699.5 317.3 700.5 318.6 700.9 319.7 701.8 320.0 703.3 321.0 704.4 321.3 705.8 321.9 707.1 323.1 708.1 323.5 709.7 324.8 710.7 325.1 712.3 325.9 713.6 326.9 714.7 328.0 715.8 328.2 717.2 M151.2 499.5 152.5 499.9 153.8 500.3 154.9 501.2 156.2 500.9 157.6 501.4 158.8 501.2 159.9 500.7 161.1 501.4 162.6 501.6 163.7 502.0 162.5 502.7 161.2 502.4 160.1 502.6 158.7 503.1 157.6 502.2 156.3 501.8 154.8 502.4 153.7 501.3 152.6 500.1 151.2 499.5 M177.0 517.0 178.4 517.2 179.1 517.9 178.6 520.2 177.3 518.8 177.0 517.0 M174.5 525.0 176.6 526.2 176.2 527.5 176.5 528.4 174.2 527.5 174.3 526.2 174.5 525.0 M162.0 597.5 162.5 598.8 163.2 600.1 162.9 601.4 161.7 602.6 161.3 601.3 161.7 600.1 161.8 598.8 162.0 597.5 M208.8 623.8 209.3 625.2 210.8 626.3 209.7 627.8 209.2 629.7 208.8 628.2 208.1 627.0 208.2 625.3 208.8 623.8 M258.0 616.2 259.3 616.0 260.2 615.1 261.2 614.5 261.5 616.1 262.8 617.2 262.6 618.5 262.3 619.9 261.8 621.3 260.9 622.4 260.4 624.0 259.2 622.7 257.6 622.5 257.5 621.2 258.0 620.0 257.7 618.7 257.6 617.5 258.0 616.2 M241.2 606.2 242.4 607.1 244.2 607.4 243.8 608.8 244.6 609.9 244.6 611.3 244.5 612.7 245.3 613.8 245.7 615.1 246.3 616.4 245.2 617.3 243.3 617.7 242.8 616.4 242.6 614.9 241.8 613.8 241.3 612.5 241.6 611.2 240.9 610.0 241.0 608.8 241.4 607.5 241.2 606.2 M224.5 633.8 225.8 632.7 228.0 632.4 228.0 633.7 228.5 634.9 228.6 636.2 228.9 637.7 227.4 638.7 226.3 639.9 225.1 638.9 224.5 637.5 M243.8 480.5 245.0 480.0 246.3 480.1 247.6 479.6 248.7 478.9 249.5 478.0 250.2 476.9 251.3 476.3 251.6 474.6 251.7 473.0 252.2 474.4 252.6 475.8 252.5 477.2 252.3 478.7 253.0 479.7 254.7 480.1 256.7 479.3 257.1 480.4 257.7 481.5 257.9 482.8 258.4 484.0 259.4 485.0 260.6 485.8 261.2 487.0 M288.8 382.2 289.8 381.0 291.6 380.3 292.4 381.9 292.7 383.5 293.0 384.8 293.1 386.0 292.2 387.2 292.3 388.7 293.9 389.1 294.8 390.5 296.2 391.1 297.3 392.4 298.6 393.6 299.7 395.0 301.0 395.8 299.8 397.0 298.9 398.8 297.4 399.0 296.2 399.8 295.2 400.4 294.3 399.4 294.0 398.1 293.0 397.2 292.2 396.1 291.6 394.9 290.9 393.7 290.6 392.3 289.6 391.2 289.3 389.8 288.4 388.6 288.3 387.3 287.9 386.0 287.5 384.8 288.4 383.7 288.8 382.2 M536.2 247.2 537.5 246.9 538.8 246.5 540.1 246.1 541.0 245.0 542.5 244.8 544.1 244.5 545.4 244.3 546.3 245.1 546.9 246.1 548.4 246.5 548.5 248.0 549.6 248.7 549.5 250.1 551.0 250.9 551.2 252.1 551.8 253.9 549.9 254.2 548.9 255.1 548.7 256.3 547.2 257.1 545.5 256.5 543.8 256.9 543.0 258.0 542.2 259.3 540.9 260.0 539.6 259.6 538.3 259.5 536.9 259.0 536.5 257.5 536.1 255.9 533.9 254.9 535.1 253.5 534.4 251.7 534.8 250.1 536.4 248.9 536.2 247.2 M539.4 248.8 540.5 249.3 541.5 250.2 542.9 249.8 544.8 250.6 543.8 251.5 543.1 252.6 542.2 253.6 542.8 255.7 544.0 254.2 545.5 253.4 545.8 251.6 547.2 250.3 M557.3 258.9 558.2 260.1 559.8 260.7 560.7 261.5 562.4 262.1 563.9 262.9 564.8 264.4 566.4 264.1 567.0 265.7 568.9 265.4 569.0 267.2 570.3 268.1 568.5 268.3 566.8 267.2 565.3 267.4 564.3 266.1 562.5 266.3 561.3 265.7 561.0 264.0 560.0 263.4 559.6 262.2 558.8 261.1 557.3 260.4 557.3 258.9 M576.9 299.5 577.8 298.7 578.6 297.8 579.2 296.8 580.3 296.2 580.6 294.8 581.9 294.4 582.7 293.3 583.1 291.8 584.0 290.9 585.4 290.4 586.5 289.6 586.9 288.3 588.0 287.7 589.2 287.2 589.8 286.0 591.2 285.7 591.9 284.7 592.5 283.6 593.7 283.0 594.7 282.4 595.6 281.5 596.8 281.0 597.5 279.9 598.9 279.7 599.7 278.7 600.9 278.2 601.9 277.5 602.9 276.6 603.9 275.9 605.2 275.5 606.2 274.7 607.0 273.7 607.7 272.7 608.4 271.6 609.2 270.5 610.7 270.3 611.5 269.1 611.8 267.6 611.6 265.9 612.1 264.5 613.3 264.0 614.1 263.1 614.8 262.1 615.6 261.1 616.5 260.4 617.8 260.0 618.3 258.7 619.4 258.0 620.3 257.1 621.4 256.4 622.2 255.4 622.7 254.2 623.8 252.9 625.3 253.2 626.9 253.4 M576.9 299.5 578.3 299.5 579.6 299.1 580.8 298.4 582.1 297.9 583.4 297.7 584.6 296.9 585.9 296.6 587.2 296.4 588.6 296.6 589.9 296.0 591.2 295.9 592.4 295.6 594.1 294.1 595.2 293.0 596.4 292.1 597.5 291.6 597.7 293.3 597.5 295.1 596.3 295.9 595.4 297.1 595.2 298.9 594.1 300.4 595.3 300.2 596.6 300.3 597.8 299.8 599.1 299.8 600.5 300.8 601.6 300.2 602.5 299.4 603.7 299.0 604.7 298.3 606.0 298.3 607.0 297.6 608.4 297.5 609.3 296.6 610.4 295.9 611.5 295.2 612.1 293.9 613.1 292.9 614.2 292.3 615.2 291.5 616.2 290.6 617.2 289.8 618.6 289.4 619.8 288.9 620.6 287.8 621.9 287.2 622.8 286.2 623.1 284.7 624.4 284.1 625.3 283.0 626.3 282.2 627.9 282.4 628.7 281.2 630.0 280.8 631.6 280.9 632.8 280.4 632.0 281.6 631.1 282.7 630.0 283.6 629.2 284.7 627.6 285.0 626.4 286.1 626.7 287.5 626.5 288.7 625.9 289.8 625.5 290.9 624.9 292.5 625.6 294.3 627.0 292.8 628.2 291.3 630.0 290.9 M612.8 274.5 614.0 273.8 614.9 272.9 615.8 271.9 617.0 271.3 617.8 269.7 619.1 268.9 620.5 268.5 621.9 269.0 621.1 270.0 620.4 271.1 619.2 271.6 618.1 272.3 617.5 273.5 616.4 274.0 615.5 274.8 614.2 275.6 612.8 274.5 M655.0 270.9 657.4 271.4 655.5 272.6 655.0 270.9 M615.5 227.7 617.2 227.7 619.1 227.2 620.3 228.1 621.7 228.9 622.0 230.6 622.9 231.8 624.1 233.2 623.0 234.1 623.1 235.5 623.2 236.8 623.7 238.0 623.8 239.4 623.1 240.7 623.6 242.0 623.4 243.6 621.9 243.8 620.4 244.5 619.1 243.7 617.7 244.4 616.6 243.3 614.7 243.7 613.4 242.7 612.7 241.3 611.8 240.0 611.6 238.4 611.9 237.1 612.4 235.7 612.8 234.5 612.9 233.2 613.6 231.9 613.4 230.9 614.2 229.9 614.4 228.4 615.5 227.7 M627.0 253.7 628.3 254.0 629.6 253.5 630.9 253.4 632.2 254.3 633.5 253.9 634.8 253.6 636.1 253.9 637.4 253.9 638.7 254.2 640.0 253.5 641.3 253.6 642.6 254.3 643.9 254.0 645.2 253.4 646.7 253.6 647.2 254.8 647.5 256.1 648.2 257.2 648.6 258.5 649.2 259.7 650.0 260.7 650.4 262.0 651.0 263.2 651.6 264.3 652.4 265.4 653.6 265.9 654.9 266.2 656.1 266.6 657.5 266.1 658.6 267.1 660.0 266.6 661.2 267.6 662.6 267.2 663.9 267.0 665.3 267.2 666.7 266.6 668.1 266.4 667.9 267.7 668.0 269.0 668.4 270.3 668.8 271.6 668.9 272.9 669.0 274.1 669.8 275.3 671.1 276.0 672.0 277.0 672.9 278.1 674.0 279.0 674.2 280.4 674.0 281.8 674.1 283.2 674.7 284.5 674.9 285.9 675.7 286.8 676.2 287.9 676.9 288.9 677.1 290.2 677.7 291.2 679.0 291.7 679.5 293.2 680.8 293.7 681.5 295.0 682.8 295.6 684.1 296.4 685.6 296.3 686.8 296.6 688.0 297.1 689.3 296.2 690.5 296.2 691.7 296.7 692.9 296.6 694.1 297.1 695.4 296.9 696.6 296.6 697.9 296.9 699.0 296.3 700.2 296.2 701.5 296.2 702.7 295.8 703.9 295.6 705.1 295.8 706.3 295.5 707.6 296.1 708.8 295.8 710.0 295.7 711.2 295.3 712.4 295.5 713.7 295.6 714.9 295.7 716.2 295.7 717.5 296.0 718.8 296.1 720.1 295.7 721.4 295.6 722.7 295.8 724.0 296.2 725.3 295.5 726.6 295.7 727.4 296.7 728.8 297.0 729.7 298.0 730.2 299.3 731.3 300.0 732.5 300.6 733.7 301.0 734.2 302.4 735.3 303.0 736.2 303.9 736.9 304.7 737.6 305.8 738.6 306.8 739.4 307.8 739.9 309.0 740.3 310.3 741.3 311.3 742.5 312.0 743.4 313.0 744.1 314.3 745.1 315.1 744.6 316.5 743.3 317.4 742.8 318.8 742.1 320.5 740.9 319.8 739.7 319.1 738.4 319.3 737.1 319.2 736.0 320.1 734.7 320.0 733.6 319.8 732.3 319.5 731.1 318.9 729.7 318.9 728.6 318.1 727.8 317.1 726.8 316.3 726.3 315.1 725.5 314.2 725.0 312.8 723.7 312.5 722.6 311.8 721.5 311.3 720.8 310.7 719.3 310.3 718.1 310.5 718.9 311.5 719.5 312.6 719.9 313.9 720.3 315.1 721.2 316.1 721.7 317.2 723.1 317.9 723.8 319.2 723.8 320.9 724.8 322.1 724.1 323.3 724.1 324.7 724.0 326.0 723.6 327.3 723.4 328.6 722.3 329.8 722.5 331.1 722.5 332.5 722.3 333.8 722.2 335.1 722.3 336.4 721.3 337.7 721.8 339.0 721.6 340.3 722.3 341.6 722.3 342.9 722.8 344.1 723.1 345.7 721.6 346.4 721.0 347.6 720.8 349.1 719.5 350.0 719.0 351.1 718.2 352.3 716.9 352.8 715.9 353.7 M627.0 291.8 627.9 292.7 629.2 292.8 630.1 293.8 631.5 293.7 632.5 294.4 633.4 295.2 634.7 295.3 635.8 295.9 636.7 297.0 638.1 296.7 639.3 297.1 640.7 296.7 642.0 296.7 643.3 297.0 644.6 297.0 645.8 297.9 647.2 297.3 648.5 297.7 649.7 296.8 651.1 296.7 652.4 296.0 653.7 295.6 654.8 294.8 656.2 294.3 657.5 294.7 658.6 294.0 659.8 293.6 660.9 293.2 662.1 293.0 663.3 292.7 664.4 292.2 665.7 292.5 666.8 291.9 668.2 291.4 669.4 292.6 670.9 292.7 672.3 292.7 673.7 293.1 675.0 292.3 676.4 292.4 677.8 292.3 M627.0 281.0 628.6 280.8 629.8 280.3 631.5 280.4 632.9 281.5 631.4 282.1 630.3 283.2 628.7 283.6 627.0 285.3 M683.6 298.6 685.1 298.5 686.1 299.9 687.5 299.6 689.0 299.5 690.2 300.1 691.5 300.0 692.6 301.0 693.9 300.4 695.1 301.5 696.3 301.2 697.6 300.9 698.8 300.9 700.0 301.6 701.2 301.1 702.6 302.0 703.7 300.6 705.1 301.1 706.4 300.9 707.7 300.3 709.2 300.9 710.1 299.9 711.4 299.8 712.5 299.2 713.5 298.3 714.7 297.9 716.5 297.5 716.6 298.9 715.7 300.4 716.7 301.7 716.4 303.1 716.6 305.0 715.6 303.8 714.2 303.6 712.9 302.9 711.6 303.2 710.3 303.6 709.0 303.2 707.7 303.3 706.4 303.5 705.1 302.5 703.9 303.2 702.7 303.0 701.5 302.2 700.2 302.5 699.0 302.3 697.8 302.3 696.6 303.5 695.3 303.2 694.0 303.4 693.0 302.1 691.7 301.9 690.4 302.1 689.2 301.8 688.1 301.2 686.9 300.9 685.3 301.2 685.0 299.4 683.6 298.6 M655.3 271.2 656.7 270.6 658.1 270.3 659.3 272.5 657.8 272.9 656.6 272.6 655.3 271.2 M627.0 308.8 628.1 309.6 629.2 310.2 630.7 310.2 631.9 310.8 633.1 311.7 633.8 312.8 634.3 313.9 634.9 314.9 635.9 315.8 636.3 317.0 636.6 318.2 637.5 319.3 637.4 320.7 638.1 321.9 638.4 323.2 639.3 324.5 638.6 325.8 637.8 327.0 637.5 328.5 637.3 329.9 636.2 331.1 635.9 332.5 636.2 334.0 636.1 335.4 635.7 336.9 636.3 335.8 636.7 334.4 637.7 333.6 638.4 332.6 639.7 331.8 640.0 330.3 641.4 329.5 642.1 328.2 642.3 326.7 643.6 325.9 644.1 324.5 645.2 323.5 646.0 322.4 646.3 320.9 648.1 319.2 646.8 320.3 646.9 321.9 646.0 323.1 645.8 324.5 645.3 325.9 644.9 327.2 644.8 328.5 644.6 329.9 644.7 331.3 643.7 332.4 643.7 333.8 643.3 335.0 642.5 336.3 643.0 337.7 642.0 338.9 642.4 340.4 641.4 341.5 641.2 342.8 641.6 344.2 641.2 345.5 640.6 346.8 640.8 348.1 640.8 349.4 640.9 350.8 641.0 352.0 640.7 353.2 640.5 354.5 640.7 355.7 640.5 357.0 640.6 358.2 640.0 359.4 639.9 360.7 640.3 361.9 640.2 363.2 639.9 364.4 640.2 365.6 640.0 366.9 640.8 368.0 641.1 369.2 640.8 370.5 641.7 371.5 641.6 372.8 642.3 374.1 642.3 375.5 643.1 376.7 643.4 378.1 644.4 379.2 644.4 380.7 644.8 381.8 645.2 383.0 645.1 384.2 645.3 385.4 646.2 386.2 647.0 387.2 647.8 388.1 648.8 388.9 649.6 389.6 651.3 390.4 652.5 389.8 653.9 389.7 655.1 388.9 656.0 388.2 657.1 387.3 658.2 386.5 659.1 385.4 659.9 384.4 660.4 383.1 660.9 381.9 662.4 381.1 662.8 379.7 662.4 378.2 663.2 377.0 663.7 375.6 663.5 374.2 663.3 372.8 663.7 371.5 663.7 370.2 663.4 368.9 663.8 367.6 663.2 366.3 664.1 364.9 663.5 363.6 663.2 362.2 663.2 360.8 662.6 359.5 661.9 358.3 661.4 357.1 660.8 356.0 660.3 354.9 660.5 353.5 660.0 352.3 659.0 351.4 658.6 350.1 658.7 348.7 658.6 347.4 658.4 346.1 657.3 344.9 658.0 343.7 658.2 342.5 658.2 341.3 657.9 340.1 657.8 338.8 658.5 337.8 658.7 336.4 659.3 335.3 660.1 334.2 660.5 332.9 661.5 332.0 661.7 330.5 662.4 329.2 663.6 328.3 664.4 327.2 665.4 326.1 665.9 324.7 666.8 323.5 667.4 322.3 667.8 321.1 668.5 320.1 669.0 318.9 669.8 318.0 670.6 317.0 670.8 315.6 671.9 314.7 672.0 313.3 672.8 312.2 673.9 311.3 673.6 309.7 674.1 308.6 675.0 307.6 675.7 306.1 676.8 306.9 678.2 306.4 679.3 307.5 680.5 307.7 681.8 307.9 683.1 307.8 684.4 307.9 685.5 308.5 686.7 309.1 687.9 309.7 689.0 310.3 690.1 311.1 691.1 312.0 692.1 312.8 693.0 313.4 694.2 314.3 694.5 315.6 694.8 316.9 695.1 318.1 695.7 319.4 696.2 320.6 696.6 321.9 696.8 323.3 697.0 324.6 696.8 326.0 697.2 327.5 697.4 328.9 697.6 330.4 697.9 331.6 697.6 332.9 696.8 334.0 696.9 335.5 695.8 336.4 695.3 337.6 694.8 339.0 693.8 340.1 692.8 341.1 692.4 342.5 693.0 343.6 694.1 344.4 694.8 345.4 695.7 346.7 695.7 345.0 696.7 343.9 697.9 343.0 698.4 341.7 699.0 340.2 700.3 340.0 701.1 339.1 702.2 338.6 703.1 337.7 704.2 337.1 705.2 336.5 706.2 335.6 707.8 336.4 709.3 337.5 709.2 339.0 710.0 340.1 710.9 341.2 710.6 342.7 711.7 343.7 712.3 344.8 712.4 346.2 713.2 347.3 713.3 348.7 713.7 350.0 714.4 351.2 714.4 352.5 715.3 353.7 715.3 355.0 M639.1 324.4 639.8 323.1 640.6 321.9 640.9 320.4 641.8 319.3 642.2 318.0 643.1 316.9 644.0 315.8 644.2 314.4 644.9 313.2 645.3 312.1 646.0 310.8 647.6 310.7 648.5 309.7 649.1 308.4 650.6 308.3 651.6 307.4 652.7 306.7 654.1 306.9 655.2 306.0 656.4 305.7 657.6 304.7 659.1 304.9 660.3 303.8 661.7 303.6 663.1 303.3 664.5 302.8 666.1 303.3 667.5 302.8 669.1 302.7 670.2 303.6 671.7 303.9 672.8 304.9 674.3 305.2 675.6 305.6 M665.1 308.4 665.2 309.9 666.0 311.3 665.5 313.1 664.9 311.8 663.8 310.6 664.8 309.6 665.1 308.4 M668.0 320.1 667.8 321.4 667.1 322.6 666.9 324.0 667.0 325.4 668.1 326.5 667.9 328.0 667.2 326.7 666.5 326.0 666.6 324.7 666.3 323.2 667.0 322.0 M715.3 355.0 715.1 356.2 715.5 357.5 715.0 358.7 714.7 359.9 715.2 361.3 713.9 362.2 713.4 363.6 713.2 365.1 712.6 366.4 711.7 367.6 710.7 368.8 710.3 370.2 710.0 371.7 709.5 373.0 708.7 374.3 707.5 375.3 707.4 376.9 706.4 378.0 706.0 379.4 705.0 380.8 706.4 381.1 707.6 381.5 708.5 382.7 709.8 383.0 710.9 383.7 712.3 384.5 714.1 385.3 714.9 384.0 716.2 383.8 717.4 383.2 718.7 383.0 720.0 382.9 721.2 382.3 722.1 381.1 723.3 380.8 724.8 380.9 725.9 380.2 727.0 379.4 728.2 378.8 729.2 378.0 730.7 378.0 731.6 377.0 733.0 376.9 734.1 376.0 735.0 375.0 736.3 374.6 737.3 373.9 738.7 373.8 739.7 372.9 740.5 371.8 741.6 371.2 742.8 370.7 744.0 370.2 745.1 369.6 746.1 368.8 747.0 368.1 747.8 367.0 749.1 366.8 749.9 365.8 750.7 364.9 752.0 364.5 753.3 364.2 753.6 362.8 754.5 361.8 755.6 361.2 756.1 360.0 756.9 359.0 757.9 358.2 758.5 357.0 759.5 356.3 760.2 355.3 761.3 354.5 762.2 353.5 761.8 351.9 762.8 350.9 763.5 349.7 763.6 348.0 762.4 348.5 761.1 348.9 759.8 349.2 758.5 349.8 757.3 350.2 755.8 350.1 754.5 350.5 753.1 350.9 751.9 351.6 750.8 352.5 749.3 352.5 747.9 353.1 747.1 354.3 746.0 355.1 745.3 356.3 744.2 357.1 742.7 357.3 741.3 357.6 739.8 357.4 738.4 357.4 736.9 357.0 735.7 357.9 734.5 358.3 733.2 358.7 731.9 359.1 730.6 359.2 730.1 360.3 729.4 361.4 728.0 361.8 727.6 363.1 726.9 364.1 726.1 365.0 725.5 366.1 724.9 367.2 724.0 368.2 722.8 369.0 721.9 370.0 720.6 370.7 719.7 371.8 718.7 372.4 717.7 373.4 716.3 373.2 715.3 373.9 714.2 374.8 712.8 375.1 711.7 374.2 710.5 373.3 709.0 373.2 M710.0 362.1 711.2 361.8 712.5 362.0 713.7 361.6 714.6 361.6 715.8 362.4 715.9 363.7 716.0 365.0 717.0 366.1 716.0 367.1 715.2 368.3 713.8 369.2 712.5 368.5 711.4 367.4 709.7 367.0 709.9 365.7 709.7 364.5 710.1 363.3 710.0 362.1 M763.7 348.4 763.0 346.7 761.9 345.4 760.5 344.2 759.8 342.3 758.3 342.3 756.9 342.9 755.5 343.7 754.1 343.2 752.8 342.5 751.3 342.4 749.7 341.4 750.6 340.2 751.6 339.2 752.7 338.3 753.3 337.0 754.2 336.0 754.8 334.7 755.8 334.1 757.0 333.7 757.9 332.9 758.8 332.0 759.9 331.5 760.7 330.4 761.6 329.4 763.0 329.3 764.0 328.4 765.5 328.5 766.6 327.7 767.9 327.4 769.1 327.0 770.2 326.2 771.5 325.9 772.7 325.2 774.1 325.9 775.2 325.3 776.5 325.4 777.5 324.3 778.9 324.6 780.1 324.4 781.2 323.9 782.0 322.7 783.0 321.8 784.0 320.8 785.4 320.3 786.1 319.0 787.7 318.8 788.7 317.7 789.9 317.0 791.1 316.3 792.4 315.6 793.7 315.0 794.9 314.3 795.8 315.1 796.2 316.3 797.4 317.0 797.7 318.1 797.5 319.4 797.3 320.7 797.6 322.1 797.0 323.3 796.6 324.6 797.0 326.0 796.3 327.1 795.3 327.9 794.2 328.6 794.1 330.1 793.2 331.3 791.9 331.4 790.6 331.9 789.4 332.3 788.4 333.3 787.0 333.3 786.1 334.4 784.7 334.3 783.8 335.3 782.6 335.8 781.3 336.1 780.0 336.3 778.7 336.0 777.4 336.1 776.1 336.7 774.7 336.1 773.5 336.8 772.3 337.5 771.0 338.0 769.5 337.9 768.1 338.2 767.1 339.4 765.8 340.0 764.4 339.8 763.4 340.8 762.0 340.6 761.0 341.5 759.8 342.0 M791.1 316.2 792.1 315.3 792.9 314.1 794.2 313.5 794.9 312.2 795.6 311.0 796.9 310.1 797.0 308.5 798.3 307.7 798.5 306.2 799.6 305.4 799.9 304.1 800.9 303.2 800.7 301.7 801.7 300.9 802.1 299.7 803.0 298.9 804.2 298.2 805.2 297.1 806.1 296.0 807.3 295.3 808.6 294.7 M888.9 187.0 888.0 188.0 887.0 188.7 886.1 189.7 885.2 190.6 883.8 191.0 882.9 191.9 882.2 193.0 880.8 193.5 880.5 195.0 879.4 195.7 878.8 197.0 877.4 197.5 876.5 198.4 876.1 199.8 874.9 200.5 874.0 201.4 873.6 202.8 872.8 203.9 872.0 204.9 870.9 205.7 870.7 207.2 869.5 208.0 868.8 209.2 868.2 210.3 867.3 211.4 866.5 212.3 866.6 213.7 865.4 214.5 865.3 215.8 864.4 216.7 863.8 217.7 863.9 219.1 862.7 219.9 862.1 220.9 862.1 222.3 861.8 223.5 861.2 224.6 859.9 225.3 860.2 226.8 858.9 227.5 859.0 228.9 857.9 229.7 858.0 231.1 857.3 232.2 856.2 233.0 856.1 234.4 855.3 235.4 854.2 236.2 853.8 237.4 853.0 238.4 852.3 239.4 852.4 241.0 851.6 241.8 850.4 242.5 849.8 243.5 849.6 244.9 848.5 245.6 848.0 246.7 846.9 247.6 845.5 248.3 846.4 246.4 847.7 245.5 847.5 244.1 848.4 243.2 848.1 241.7 848.8 240.7 849.0 239.3 849.7 238.1 850.0 236.7 851.0 235.5 850.9 234.1 852.0 232.9 852.1 231.7 852.1 230.3 852.7 229.2 853.2 228.0 854.0 226.9 853.8 225.5 854.0 224.2 855.1 223.0 854.6 221.5 853.8 220.4 854.8 219.5 856.0 218.9 857.3 218.5 858.2 218.1 858.7 216.8 859.6 215.8 860.0 214.5 860.6 213.4 860.7 212.1 860.6 210.8 861.5 209.7 861.7 208.5 861.8 207.2 862.1 206.0 862.4 204.8 862.9 203.8 863.6 202.6 864.2 201.4 864.8 200.0 865.5 198.8 866.3 197.7 867.7 197.1 868.3 195.7 869.3 194.7 870.3 193.7 871.1 192.7 872.6 192.5 872.9 190.9 874.3 190.5 875.5 190.0 876.0 188.6 877.2 188.0 878.0 186.9 879.1 186.0 M892.8 208.5 893.9 207.5 895.1 206.7 896.2 205.9 897.7 205.9 899.0 205.5 900.4 205.3 901.5 204.1 902.8 204.5 904.0 203.9 905.3 204.0 906.5 203.6 907.7 202.9 909.2 203.0 910.4 202.0 M919.1 258.3 917.5 259.8 915.9 259.6 914.7 260.0 913.7 261.0 912.5 261.5 911.2 261.6 910.2 262.9 908.8 263.0 M872.3 318.0 872.4 319.6 873.0 321.1 873.2 322.7 873.8 324.0 874.0 325.3 874.4 326.6 875.0 327.9 876.0 329.0 876.3 330.3 877.4 331.2 879.0 331.4 880.4 332.4 880.3 333.7 881.1 334.8 881.4 335.9 881.9 337.1 881.9 338.6 883.5 338.6 884.6 339.8 886.2 340.6 886.7 339.1 887.8 338.4 887.8 337.0 887.4 335.7 886.8 334.4 887.0 332.8 887.9 331.5 890.0 332.5 889.9 333.7 890.5 334.9 890.7 336.1 890.7 337.3 889.8 338.1 889.4 339.4 888.6 340.4 887.6 341.2 886.8 341.9 885.8 343.0 884.3 342.8 883.2 343.5 882.0 344.3 880.8 343.4 879.4 343.1 878.0 342.7 876.9 341.7 875.5 341.7 874.2 341.2 872.8 341.8 871.3 342.2 M879.1 342.2 880.5 342.8 881.7 342.9 881.4 344.5 880.2 345.1 879.8 343.7 879.1 342.2 M888.9 343.8 890.3 344.5 891.9 344.7 890.5 345.6 888.9 343.8 M839.1 373.9 839.9 373.0 841.0 372.4 841.2 370.9 842.7 370.6 843.2 369.4 844.0 368.5 844.7 367.3 845.9 366.7 847.3 366.3 848.4 365.4 849.2 364.2 850.4 363.6 851.4 362.7 852.6 361.9 853.7 361.4 854.9 360.9 856.3 360.9 857.4 360.4 858.4 359.6 859.4 358.8 860.5 358.3 861.8 358.0 863.0 357.6 864.1 356.9 865.2 356.3 866.1 355.4 867.3 355.1 866.2 355.9 865.2 357.0 864.7 358.6 863.3 358.8 862.6 359.9 861.7 360.7 860.3 360.8 859.5 361.8 858.4 362.5 857.8 363.7 856.5 363.9 855.3 364.5 854.2 365.4 853.2 366.3 852.0 367.0 850.9 367.8 849.9 368.7 848.9 369.7 847.6 369.9 846.5 370.6 845.3 371.1 844.5 372.2 843.0 372.3 842.1 373.2 841.0 373.4 839.1 373.9 M841.0 361.8 842.1 360.9 843.6 361.2 844.8 360.6 845.8 359.6 847.2 359.7 848.2 358.6 849.4 358.1 850.8 357.8 851.8 357.1 853.0 356.8 854.3 356.6 855.3 355.8 856.5 355.3 857.4 354.4 858.7 354.2 860.0 353.8 861.3 353.2 862.6 353.0 863.9 352.5 865.1 351.6 866.2 350.9 867.9 350.7 869.4 350.2 870.7 349.3 M838.1 373.9 838.4 375.1 839.5 376.0 839.4 377.3 840.1 378.4 840.3 379.9 841.5 380.9 841.8 382.3 841.9 383.5 842.2 384.8 842.2 386.0 M838.4 370.0 839.5 370.9 840.7 371.7 841.5 372.8 842.4 373.9 842.6 375.2 842.2 376.6 843.1 377.8 843.3 379.1 842.8 380.5 843.4 381.7 842.8 383.0 842.9 384.3 842.6 385.6 842.9 387.0 842.9 388.3 842.1 389.5 842.0 390.8 841.6 392.1 841.2 393.4 840.8 394.7 840.9 396.1 840.5 397.4 839.6 398.4 839.6 399.7 839.4 400.9 838.7 402.0 838.6 403.4 837.3 404.0 836.8 405.5 835.5 406.1 M830.2 448.1 831.0 449.5 831.9 450.7 832.2 452.3 833.5 452.9 834.2 453.8 835.1 454.7 835.5 456.0 836.0 457.1 836.8 458.0 837.8 458.8 838.2 460.0 839.4 460.8 839.8 462.1 840.1 463.4 840.4 464.7 841.2 465.8 841.8 467.0 842.3 468.2 843.2 469.2 843.3 470.6 844.1 471.5 844.2 473.1 843.9 474.5 843.3 475.9 843.4 477.5 842.7 478.6 841.4 479.1 840.9 480.3 840.0 481.3 839.1 482.2 838.2 483.0 837.7 484.5 836.6 485.3 835.8 486.5 834.6 487.3 833.2 487.8 831.8 488.2 830.6 489.0 829.4 489.5 828.3 490.0 827.1 490.2 826.0 490.9 824.6 490.8 823.4 491.6 822.2 492.4 821.4 493.7 820.0 494.1 818.7 494.9 818.1 496.2 817.0 497.1 816.2 498.3 815.6 499.6 814.7 500.8 814.6 502.3 814.1 503.7 814.2 505.2 M816.6 500.0 816.6 501.6 815.0 502.3 814.3 503.6 813.9 505.0 814.2 506.4 814.3 507.7 812.9 508.7 812.5 509.5 812.0 511.1 811.0 512.0 809.9 512.7 809.0 513.6 807.3 513.3 805.9 513.6 804.9 514.6 804.5 516.3 803.0 516.8 802.9 518.7 800.8 518.6 800.6 520.3 800.3 521.7 798.6 521.9 798.6 523.5 797.6 524.4 797.3 525.5 796.1 526.2 795.3 527.2 794.4 528.1 795.2 529.8 793.2 530.2 794.0 531.9 793.2 533.0 791.8 533.5 791.5 534.8 790.8 535.8 789.6 536.6 789.4 538.0 787.6 538.2 787.4 540.1 785.5 540.2 784.5 541.2 783.9 542.6 783.4 544.1 781.6 543.4 781.3 545.4 779.8 545.2 778.8 545.9 778.4 546.9 776.6 547.5 775.6 548.7 775.0 550.1 774.7 551.5 773.9 552.7 773.1 553.9 773.2 555.3 771.7 556.4 771.3 557.6 771.4 558.9 770.9 560.1 772.0 561.6 770.5 562.6 772.1 564.1 771.1 565.3 771.7 566.6 770.9 567.8 770.3 569.0 770.1 570.2 770.4 571.5 770.5 572.8 770.8 574.0 770.4 575.3 770.6 576.6 770.8 577.8 769.7 579.1 770.2 580.3 M770.2 580.3 770.4 581.6 770.6 582.8 771.1 584.0 770.8 585.4 771.5 586.5 771.6 587.7 771.9 589.0 772.3 590.1 772.6 591.3 773.3 592.3 773.7 593.4 774.3 594.5 775.0 595.5 775.7 596.6 777.0 597.3 777.6 598.4 778.5 599.4 778.5 601.0 779.3 602.0 780.1 603.0 781.1 603.9 781.8 605.0 782.6 606.0 783.0 607.3 783.4 608.6 784.7 609.3 785.6 610.2 786.1 611.3 786.6 612.5 786.8 613.8 787.5 614.8 788.4 615.6 789.3 616.5 790.0 617.6 790.5 618.6 790.6 620.0 791.5 620.9 791.7 622.2 792.4 623.2 793.0 624.2 793.8 625.1 794.1 626.4 795.2 627.1 795.8 628.2 795.9 629.5 796.5 630.5 797.5 631.4 798.2 632.5 799.1 633.5 799.0 635.1 799.9 636.0 800.4 637.2 801.1 638.3 802.1 639.1 802.4 640.3 803.3 641.2 803.4 642.5 803.9 643.6 805.1 644.3 805.8 645.4 806.0 646.7 806.1 648.1 806.7 649.3 807.4 650.4 807.1 652.0 807.5 653.2 808.2 654.4 808.9 655.5 808.4 657.0 809.1 658.1 809.9 659.3 810.0 660.6 809.8 661.9 809.6 663.2 810.0 664.4 809.9 665.7 810.4 666.9 810.5 668.2 809.9 669.4 810.4 670.7 810.7 672.0 810.1 673.2 810.5 674.5 810.4 675.7 810.1 677.0 809.9 678.2 809.7 679.5 809.7 680.6 809.1 681.8 808.7 683.1 807.4 683.7 807.2 685.2 806.1 686.0 805.4 687.1 804.2 687.6 803.2 688.3 802.4 689.5 801.2 689.9 800.2 690.6 799.2 691.4 798.4 692.3 796.9 692.3 796.0 693.2 795.3 694.3 794.2 694.7 792.7 695.0 792.1 696.4 790.9 697.1 789.6 697.6 788.6 698.5 787.7 699.5 M730.0 600.4 731.3 600.8 732.5 601.4 733.1 602.8 734.6 602.9 735.1 604.5 736.3 604.9 737.8 605.1 738.2 606.5 739.7 606.7 740.3 607.8 741.6 608.2 742.0 609.6 742.9 610.5 743.8 611.3 745.3 611.2 745.9 612.6 747.2 612.8 748.1 613.7 749.4 613.9 750.4 614.5 751.5 615.0 752.3 615.7 754.0 616.1 755.0 617.1 755.6 618.5 756.8 619.3 757.7 620.5 758.2 621.7 757.3 623.0 758.2 624.2 757.2 625.5 757.2 626.8 757.7 628.0 758.2 629.2 757.7 630.5 758.4 631.7 758.3 633.0 758.9 634.2 758.0 635.6 758.7 636.8 759.0 638.0 759.9 639.1 759.9 640.7 760.4 642.0 761.0 643.2 762.2 644.2 762.2 645.5 762.5 646.8 762.4 648.3 763.9 648.8 764.5 650.2 765.2 651.5 766.4 652.3 768.1 652.8 768.8 653.8 769.5 654.8 769.7 656.3 770.6 657.2 771.4 658.1 772.2 659.1 773.0 660.1 773.6 661.2 774.3 662.3 774.8 663.5 776.0 664.4 776.9 665.4 777.8 666.5 778.9 667.5 780.0 668.4 781.6 668.8 782.1 670.3 782.9 671.5 784.3 672.1 784.9 673.5 786.5 673.9 786.9 675.6 788.3 676.2 789.1 677.4 790.5 678.0 791.2 679.2 791.8 680.3 792.6 681.3 793.5 682.2 793.9 683.6 794.1 685.0 795.3 685.9 796.6 685.9 797.8 685.4 799.1 685.2 800.5 685.0 801.7 684.1 802.7 683.0 803.9 682.3 805.2 681.9 806.2 680.7 807.6 680.0 809.1 679.5 M790.2 648.1 791.7 647.6 793.0 646.8 794.1 645.4 794.9 646.6 796.0 647.5 796.9 648.1 797.1 649.4 797.5 650.6 798.0 651.8 797.6 652.9 796.9 654.1 795.7 654.7 794.7 655.7 793.4 654.8 792.3 653.6 790.4 653.1 790.6 651.9 790.6 650.6 790.4 649.3 790.2 648.1 M787.7 615.5 788.7 616.7 790.3 617.1 791.1 618.2 792.0 619.3 792.3 620.7 793.7 621.6 794.1 623.3 792.8 623.6 791.4 623.4 789.8 624.4 789.7 623.1 789.7 621.7 789.6 620.3 788.5 619.3 788.4 618.0 788.3 616.7 787.7 615.5 M758.9 635.5 760.1 636.1 761.3 636.6 762.4 636.9 763.3 638.0 763.7 639.2 764.1 641.0 762.5 641.2 761.5 642.5 760.1 643.1 M770.2 654.4 771.5 655.0 772.4 656.4 773.8 656.9 774.1 658.2 774.3 659.4 774.6 660.7 774.7 661.9 775.1 663.3 773.9 662.7 772.9 661.8 772.2 660.6 M826.6 650.6 827.9 649.7 829.4 649.2 830.1 647.7 831.5 647.5 832.6 646.9 833.3 645.6 834.1 644.7 835.4 644.3 836.7 644.1 837.9 644.7 839.2 645.1 840.1 644.9 840.7 643.8 841.7 642.8 842.0 641.5 842.9 640.3 844.2 640.2 845.4 639.6 846.6 639.2 848.0 639.2 849.2 639.9 850.3 641.0 851.7 641.2 853.1 641.4 854.3 641.9 855.4 642.7 856.7 642.8 857.8 643.3 858.9 644.7 860.2 645.5 860.6 646.9 859.5 648.0 859.6 649.3 859.5 650.7 859.3 651.9 858.3 653.0 858.6 654.4 857.6 655.7 857.5 654.4 857.8 653.0 857.0 651.9 856.9 650.4 855.3 650.1 854.2 649.0 852.9 648.3 851.7 648.1 850.5 647.3 849.2 647.3 848.1 647.2 846.6 646.7 845.5 647.5 844.3 648.1 843.1 648.6 841.6 648.4 840.4 648.9 839.3 649.8 837.9 649.8 836.6 650.0 835.4 650.6 834.2 651.2 832.9 651.2 831.6 651.4 830.4 651.7 829.0 651.8 828.0 650.7 826.6 650.6 M845.5 673.2 846.6 674.5 847.6 675.9 849.0 676.8 849.5 678.1 850.3 679.3 850.5 680.7 851.7 681.5 852.7 682.5 853.3 683.9 854.4 684.8 855.2 686.0 856.3 686.7 856.9 687.9 858.2 688.5 858.2 690.0 859.5 690.6 859.9 692.0 860.5 693.3 860.7 694.7 861.8 695.8 861.3 697.0 861.7 698.3 862.1 699.5 861.8 700.5 860.5 701.1 859.3 700.3 858.0 700.8 856.8 700.0 856.3 698.5 854.9 697.9 853.9 696.9 852.9 695.9 852.1 694.7 850.6 694.1 849.9 692.9 848.7 692.0 848.2 690.6 846.8 690.1 846.6 688.7 845.5 687.9 844.9 686.8 844.3 685.8 844.7 684.5 844.5 683.1 844.9 681.9 845.1 680.7 845.9 679.5 845.1 678.2 845.1 677.0 845.5 675.7 845.5 674.4 845.5 673.2 M868.1 663.2 869.3 663.5 870.6 663.3 871.8 663.5 872.9 663.6 874.4 663.6 875.4 664.8 876.9 665.0 878.5 665.5 878.3 667.1 879.7 668.0 880.4 669.2 880.8 670.6 881.1 671.9 880.8 673.3 881.2 674.5 881.8 675.8 880.6 674.4 879.6 673.0 878.8 672.0 878.0 671.1 877.1 670.2 876.0 669.4 875.5 668.4 874.4 667.4 873.1 666.8 872.0 666.0 870.6 665.7 M871.8 675.7 872.0 677.0 872.5 678.1 873.7 678.8 874.3 679.8 874.2 681.3 875.0 682.2 875.8 683.0 876.5 684.4 877.8 685.1 878.8 686.1 879.7 687.2 880.6 688.3 881.5 689.2 883.0 689.6 883.6 691.0 884.7 691.7 885.8 692.4 886.8 693.4 887.8 694.2 889.2 694.1 890.0 695.1 891.0 695.9 892.0 696.6 893.1 697.2 894.5 697.0 895.6 698.1 896.8 698.3 898.2 698.3 M890.6 674.4 891.8 675.0 892.7 675.9 893.4 677.1 894.8 677.2 895.7 678.1 896.3 679.5 897.4 680.5 898.9 681.0 899.5 682.4 900.7 683.2 M903.2 692.0 904.1 693.0 904.7 694.2 905.5 695.3 906.8 696.0 907.6 697.1 908.4 698.1 909.4 699.1 910.5 700.0 911.5 701.0 912.3 702.2 913.2 703.3 M848.0 661.9 849.3 663.1 850.8 664.2 851.3 665.7 851.8 667.2 853.0 668.1 851.8 668.6 850.5 668.7 M858.0 673.2 859.3 673.2 860.5 672.8 862.0 672.4 863.0 673.6 864.4 674.9 863.0 674.5 861.8 675.3 860.5 675.2 M923.3 703.3 924.5 703.9 925.8 703.8 927.0 704.0 928.2 703.9 929.5 704.6 930.7 705.3 931.8 706.1 933.5 706.6 931.9 707.1 931.0 708.4 930.2 709.7 928.9 710.7 928.3 712.1 M963.4 713.9 964.5 713.2 965.1 712.0 965.8 711.1 967.2 710.9 968.4 710.2 968.9 708.9 969.6 707.8 970.7 706.7 973.3 706.0 973.6 707.6 975.2 708.1 975.5 709.2 977.0 709.4 978.5 710.1 979.7 710.7 981.1 709.5 982.7 710.1 982.6 712.2 984.0 713.4 M895.7 705.8 896.4 707.0 896.7 708.2 897.0 709.5 897.4 710.7 897.2 712.1 897.7 713.4 M835.4 636.8 836.7 637.6 M579.5 622.1 580.9 622.1 582.2 622.3 583.5 622.7 584.7 623.1 586.0 623.5 587.5 623.0 588.6 624.0 590.0 623.9 591.2 624.2 592.7 624.3 594.2 624.2 595.7 623.8 597.4 623.8 597.9 622.5 598.9 621.9 600.1 621.4 601.1 620.3 602.4 620.5 603.7 620.9 604.7 621.7 605.6 623.2 606.8 624.6 608.0 625.5 609.3 626.0 610.9 626.3 611.9 627.8 612.6 629.5 614.2 629.6 615.3 630.7 616.8 630.9 618.1 631.5 619.2 632.6 620.3 633.0 621.8 632.9 622.7 632.1 623.5 631.0 624.3 630.0 625.6 629.3 627.1 629.0 628.4 628.4 629.6 627.6 631.1 627.3 632.3 626.4 633.4 625.6 634.1 624.1 635.4 623.7 636.8 623.7 638.1 623.5 639.3 624.0 640.0 625.1 641.2 625.5 642.1 626.2 643.3 627.0 644.5 627.9 645.9 628.6 647.3 628.4 648.5 628.6 650.2 628.5 649.2 627.4 648.0 626.5 646.6 625.8 645.9 624.5 644.7 623.7 643.2 623.3 641.8 622.9 640.9 621.4 639.6 620.8 637.8 620.4 638.7 619.2 639.5 618.0 639.9 616.5 640.5 615.4 641.7 614.8 642.5 613.9 643.0 612.7 643.6 611.0 644.9 609.9 643.4 609.7 641.8 608.4 641.0 610.0 639.5 610.6 637.9 611.2 638.8 612.2 639.2 613.4 639.1 614.7 M585.4 618.6 586.8 618.5 588.1 619.0 589.1 619.5 588.3 621.5 M576.6 617.6 578.2 616.8 578.7 618.2 579.5 619.6 M567.8 618.6 569.4 617.6 569.1 619.1 569.8 620.5 M622.5 609.8 623.5 608.8 624.8 608.2 625.4 606.5 626.7 607.2 627.9 606.7 629.1 606.5 630.2 607.1 631.7 607.4 633.1 607.9 634.3 608.8 634.9 610.5 636.1 611.4 634.8 612.1 633.7 613.1 632.3 612.9 631.1 612.9 629.9 612.5 628.6 612.4 627.3 612.9 626.2 612.1 624.9 611.8 623.3 611.9 622.5 609.8 M639.1 611.2 640.3 610.5 641.2 609.7 642.3 608.9 642.8 607.5 644.0 606.7 645.4 606.4 646.8 606.0 648.4 606.0 649.8 605.4 651.3 606.2 652.8 605.6 654.2 605.5 655.6 605.5 657.2 605.9 658.6 605.1 660.1 605.1 661.6 604.8 662.9 605.2 664.2 605.4 665.4 604.7 666.8 604.7 668.2 604.7 669.4 603.9 670.8 604.0 672.0 603.5 673.2 602.8 674.8 602.7 675.9 601.7 677.1 600.6 678.5 600.8 679.9 600.7 681.1 600.1 682.4 599.7 683.7 599.3 685.0 599.4 686.3 599.2 687.6 598.8 688.9 598.9 690.2 598.9 691.5 599.5 692.8 599.3 694.2 599.0 695.3 600.1 696.8 599.6 698.0 600.5 699.3 600.6 700.5 601.2 701.8 601.5 703.2 601.8 704.1 602.8 705.2 603.6 706.3 604.1 707.4 604.8 708.3 605.7 708.6 607.0 709.4 608.0 710.5 608.6 711.5 609.8 712.8 610.6 714.3 610.7 715.4 609.9 716.8 609.4 718.1 608.8 718.8 607.4 720.0 606.7 721.0 605.9 722.3 605.4 722.9 604.2 724.1 603.7 725.0 602.8 726.1 602.2 727.1 601.3 728.5 601.8 729.5 601.0 M663.5 597.1 663.9 598.5 664.5 599.9 665.6 600.9 666.1 602.7 667.4 603.9 M649.8 611.2 650.0 612.5 651.2 613.4 651.3 614.7 650.9 616.4 650.8 618.2 M812.3 420.5 813.1 421.5 814.5 421.8 815.1 423.0 816.4 424.0 817.4 425.3 818.5 426.3 819.3 427.5 M829.6 454.0 828.2 455.0 826.7 455.9 826.0 457.6 824.9 458.6 826.1 459.9 827.7 460.3 826.4 461.3 825.0 462.0 823.7 462.7 822.9 463.4 824.1 464.1 825.4 464.4 826.7 464.7 828.0 464.3 829.4 464.1 830.4 462.9 832.3 463.0 833.8 461.6 834.9 462.4 835.2 463.8 835.8 465.1 836.1 466.4 836.6 467.9 834.9 468.4 833.7 469.8 832.0 470.4 830.8 471.8 829.6 472.5 828.6 473.4 827.8 474.6 826.2 475.5 825.1 476.8 823.7 477.3 822.7 478.6 824.5 479.1 825.7 480.4 826.5 481.9 827.9 483.6 826.0 484.0 824.6 484.9 823.6 486.6 822.0 487.3 821.2 488.9 820.1 490.3 819.3 491.8 817.9 493.0 M826.7 467.7 827.9 468.6 829.0 469.4 830.6 468.9 832.2 468.6 833.5 469.8 834.3 471.0 833.4 472.2 832.9 473.7 831.8 475.1 831.0 476.7 829.8 478.0 829.0 479.1 829.3 480.5 830.0 481.5 830.6 482.1 830.6 483.9 829.6 485.2 M838.4 455.9 839.3 457.0 839.0 458.4 839.7 459.4 839.6 460.8 840.5 461.8 841.0 462.9 841.6 464.0 841.1 465.5 841.9 466.5 842.4 467.6 842.9 468.9 843.1 470.4 843.9 471.6 M708.2 186.3 708.9 187.4 709.6 188.4 710.2 189.5 711.1 190.4 711.0 191.7 710.8 193.0 710.6 194.3 712.3 193.2 713.6 193.0 714.9 193.3 716.2 193.4 717.5 193.4 719.1 194.4 720.4 192.8 720.4 190.4 721.2 189.2 721.8 187.9 722.5 186.6 M728.7 186.6 730.0 188.7 730.1 190.0 730.4 191.3 M918.7 186.0 919.1 187.3 918.8 188.6 919.4 190.0 918.4 191.2 917.3 192.3 917.1 194.0 915.9 195.0 915.8 196.6 914.5 197.5 914.5 199.0 913.2 199.5 912.7 200.7 912.0 201.9 910.7 202.2 909.4 202.6 908.3 203.2 907.0 203.6 M907.0 203.6 908.6 203.3 909.9 204.1 911.4 204.0 912.9 205.2 914.1 204.3 915.3 204.2 916.5 203.8 917.3 204.5 919.5 205.6 918.9 207.0 918.5 208.4 919.0 209.9 918.4 211.4 919.2 212.7 919.6 213.9 919.8 215.6 918.5 216.6 917.1 217.6 916.7 218.8 918.0 218.9 919.3 219.1 920.4 218.2 922.1 218.0 922.3 219.5 923.0 220.8 923.2 222.6 924.2 223.5 925.8 223.8 926.5 225.1 927.6 226.0 928.9 226.6 929.5 227.9 930.3 229.5 931.9 228.9 933.3 229.6 934.8 230.0 936.6 229.4 937.3 231.1 939.1 230.8 940.3 231.6 941.4 232.5 943.0 231.9 944.1 232.7 945.4 232.4 946.7 232.8 947.9 232.2 949.1 232.2 950.4 232.0 951.6 231.6 952.8 231.3 954.1 231.4 955.3 231.7 956.5 231.0 957.9 231.8 959.0 230.9 960.1 230.3 961.3 230.0 963.1 230.2 962.9 228.5 964.4 227.9 964.4 226.3 965.2 226.0 966.7 226.3 967.5 227.3 968.7 228.5 969.8 227.0 971.5 226.4 972.8 227.3 974.1 227.1 975.1 227.2 976.6 227.8 977.3 229.0 M907.0 209.9 908.2 209.4 909.2 208.7 910.5 208.4 911.6 207.8 912.9 207.6 914.1 206.7 915.4 206.0 916.9 205.6 918.2 204.4 M931.4 215.3 933.8 214.2 933.4 215.6 934.2 216.7 934.8 217.7 935.4 218.9 935.3 220.2 936.3 221.6 937.4 223.4 938.7 222.5 940.2 222.0 941.6 222.3 942.7 221.2 944.3 221.7 945.4 221.2 946.6 220.9 947.8 220.5 948.7 219.3 950.1 219.5 951.2 218.7 952.2 217.7 953.8 218.0 954.7 217.0 956.0 216.6 957.2 215.9 958.3 214.8 960.0 215.2 961.5 214.5 960.6 215.8 959.5 216.9 959.1 218.4 957.8 219.7 956.6 221.1 956.8 222.8 955.7 224.2 957.1 224.7 957.8 226.1 956.3 226.4 955.0 226.8 953.1 226.5 951.9 225.4 950.5 224.5 949.0 225.2 947.6 225.6 946.1 226.2 944.8 225.8 943.6 225.8 942.4 225.9 941.1 226.2 939.7 225.5 938.2 225.0 936.8 225.4 935.6 224.6 934.2 223.6 932.7 223.0 932.5 221.6 931.4 220.5 931.3 219.3 930.8 217.9 931.5 216.6 931.4 215.3 M973.4 197.7 974.7 197.8 976.1 197.8 977.0 197.4 977.6 198.6 978.8 199.4 979.0 200.7 979.5 201.9 979.8 203.2 979.9 204.5 979.6 205.9 979.7 207.2 979.9 208.6 981.3 210.6 982.4 209.8 983.7 209.4 985.1 209.5 986.4 211.5 985.9 212.7 985.8 214.1 985.5 215.3 984.7 216.6 985.1 217.9 984.3 219.2 984.6 220.5 984.0 221.8 984.3 223.3 982.8 224.3 981.3 225.2 979.1 226.5 977.9 225.8 976.6 225.5 975.1 225.5 974.6 224.0 973.3 223.7 972.1 223.3 971.9 222.0 970.7 220.9 970.2 219.6 969.5 218.2 969.7 216.9 970.4 215.6 970.3 214.3 970.3 213.0 970.1 211.7 970.3 210.4 971.1 209.1 970.7 207.7 971.5 206.4 971.6 205.0 971.1 203.5 972.2 202.5 971.8 201.1 972.8 200.1 973.3 199.0 973.4 197.7 M982.2 229.9 980.5 230.6 979.2 231.8 978.2 232.8 977.0 233.5 976.1 234.6 975.3 235.8 974.7 236.9 973.4 237.4 973.1 238.8 972.6 240.0 971.6 240.8 970.3 241.3 969.2 241.8 968.4 242.9 967.4 243.7 966.2 244.2 965.4 245.3 964.7 246.6 963.7 247.6 962.4 248.3 961.8 249.6 961.0 250.6 959.6 250.9 958.5 251.5 958.0 252.8 956.7 253.2 955.5 253.7 955.1 255.2 954.1 255.9 952.9 256.3 951.4 256.5 949.5 256.1 948.8 257.3 948.7 258.9 947.7 260.1 947.5 261.3 947.6 262.7 946.3 263.6 946.8 265.0 946.5 266.2 945.7 267.3 945.8 268.6 944.9 269.6 944.6 270.8 943.6 271.7 943.5 273.2 942.3 274.2 941.6 275.4 941.1 276.8 940.7 278.0 939.9 278.9 939.0 279.8 938.3 280.8 937.1 281.6 936.3 282.7 935.2 283.8 933.9 282.6 932.7 281.2 930.7 281.0 929.3 279.9 928.1 279.2 927.2 278.1 926.2 277.2 925.5 275.9 924.9 274.6 923.8 273.8 923.1 272.2 923.7 270.9 924.2 269.5 924.9 268.3 925.1 266.7 926.2 266.0 926.8 264.9 927.9 264.2 928.1 262.9 929.3 262.0 929.9 260.7 930.8 259.6 931.5 258.4 932.0 257.0 933.4 256.3 934.3 255.1 934.8 253.8 935.1 252.3 936.4 251.5 937.4 250.7 938.3 249.8 938.9 248.7 939.0 247.2 940.5 246.9 941.3 246.0 942.0 244.9 943.4 244.8 944.2 244.0 945.6 243.6 946.6 242.4 948.0 242.2 949.3 241.7 950.6 241.3 951.8 240.9 950.7 241.7 949.7 242.7 948.4 243.2 947.0 243.5 946.0 244.5 944.9 245.3 944.5 246.5 943.4 247.2 942.6 248.7 942.6 247.1 942.1 245.5 940.6 245.8 938.9 246.1 937.7 247.4 936.3 248.5 935.4 247.4 934.4 246.5 933.6 245.6 934.1 244.5 933.3 243.0 933.9 241.9 934.7 240.9 934.5 239.1 936.0 238.2 936.7 237.2 935.2 237.6 934.1 238.5 933.6 239.9 932.5 240.8 931.6 241.9 930.3 242.5 929.4 243.6 928.4 244.5 927.9 245.7 926.8 246.5 925.7 247.2 925.1 248.3 924.2 249.1 924.0 250.6 923.0 251.4 922.3 252.5 921.6 253.5 920.4 254.1 920.0 255.6 918.7 256.3 917.5 257.1 916.5 257.8 916.1 259.5 915.0 260.0 913.8 260.5 912.6 260.7 911.7 262.2 910.1 262.1 909.0 263.3 907.0 264.1 M975.4 229.0 976.7 229.2 977.9 229.6 979.3 229.1 980.8 229.6 982.2 229.9 M578.4 621.7 576.9 622.1 575.4 622.4 573.8 622.4 572.5 622.4 571.4 622.8 570.3 623.4 569.0 623.2 567.9 623.7 566.8 624.3 565.5 624.1 564.3 624.4 563.3 625.4 561.9 625.5 560.8 626.1 559.8 627.1 558.7 627.9 557.2 627.9 556.0 628.5 555.2 629.8 553.7 630.3 552.5 631.2 551.4 632.1 550.2 632.9 548.9 633.7 548.1 635.0 546.6 635.5 545.4 636.4 544.5 637.6 543.2 638.3 542.0 639.1 540.8 639.9 539.7 641.0 538.7 642.0 537.5 643.0 536.2 643.3 535.2 644.2 533.8 644.3 532.6 644.9 531.7 646.0 530.3 646.5 529.1 647.2 528.2 648.3 526.7 648.7 525.6 649.6 524.6 650.8 523.6 651.8 522.5 652.5 521.3 653.0 520.6 654.0 519.4 654.7 518.9 655.8 518.0 656.9 517.0 657.8 515.8 658.5 515.4 659.9 514.7 661.3 513.4 662.4 513.1 664.0 512.3 665.2 512.4 666.7 511.8 668.0 511.3 669.5 511.0 671.1 511.1 672.7 511.2 674.2 511.7 675.8 511.5 677.3 511.9 678.7 511.7 680.2 512.1 681.6 512.3 683.0 512.8 684.4 512.9 685.8 513.6 687.1 513.6 688.6 513.9 690.0 514.2 691.4 514.1 692.9 514.8 694.3 515.0 695.8 515.3 697.3 514.6 698.4 514.5 699.6 514.3 700.8 514.1 702.0 513.2 703.0 512.7 704.2 512.6 705.5 512.1 706.6 511.4 707.7 511.2 709.1 510.6 710.2 510.2 711.5 509.3 712.5 508.7 713.6 508.8 714.9 508.1 716.0 M556.2 628.7 554.9 627.0 555.0 625.6 554.1 624.6 553.6 623.5 553.0 622.1 552.0 623.5 551.4 625.3 550.1 624.9 549.0 624.1 549.3 625.5 549.5 626.9 550.2 628.1 550.2 629.6 549.7 631.1 549.6 632.6 549.2 634.0 548.0 634.6 546.8 635.2 M532.7 645.1 531.0 644.6 529.4 644.7 528.3 644.1 526.9 644.0 525.2 643.6 523.8 644.8 521.8 644.9 523.2 645.8 524.1 646.8 524.3 648.1 523.4 649.1 524.2 650.5 523.4 651.6 M518.7 655.7 519.8 655.0 520.5 654.0 520.9 652.7 521.8 651.7 521.5 650.3 522.1 648.9 521.0 649.6 519.9 650.1 519.0 650.6 517.6 651.4 516.9 652.6 516.3 653.9 M514.0 659.8 514.3 658.4 515.8 657.7 515.9 656.1 516.7 655.0 517.5 654.0 516.3 654.2 515.0 654.3 513.6 654.9 513.5 656.2 513.3 657.5 512.8 658.6 M512.8 663.9 510.7 664.4 510.9 662.6 511.6 660.9 509.9 660.9 508.2 660.9 508.3 662.3 509.4 663.2 510.0 664.4 510.5 665.6 M511.6 669.1 510.9 670.4 510.4 671.7 509.8 672.5 509.0 671.5 508.6 670.3 508.2 669.2 507.1 670.2 505.9 670.9 504.6 671.5 505.8 672.0 506.7 673.2 508.1 673.3 509.3 673.8 M509.3 675.0 508.6 676.3 507.8 677.3 508.0 678.5 508.2 679.7 508.3 680.9 508.5 682.1 509.2 683.2 509.1 684.4 509.6 685.5 509.9 686.7 510.2 687.9 510.7 689.0 511.1 690.2 511.0 691.4 511.4 692.6 511.9 693.7 511.9 695.0 512.3 696.2 512.8 697.3 M569.1 620.5 567.9 618.2 569.7 617.0 570.8 618.8 M577.3 617.6 579.0 617.0 579.6 621.1 577.3 621.1 M585.5 617.6 587.8 618.2 588.4 619.9 586.1 619.9 585.5 617.6 M589.6 620.5 591.9 619.9 593.7 621.7 590.7 622.5 589.6 620.5 M505.8 707.8 507.0 708.0 508.3 708.2 509.2 709.0 508.9 710.7 508.7 712.5 M473.2 186.0 473.9 187.2 474.6 188.4 474.7 189.9 475.0 191.4 474.2 192.8 474.2 194.3 474.4 195.7 474.4 197.1 474.8 198.5 475.1 199.8 475.3 201.2 474.9 202.8 476.2 204.0 476.9 205.7 478.3 206.4 479.2 207.7 480.5 208.6 481.8 208.4 482.9 207.9 484.2 207.8 485.5 207.2 486.5 208.6 487.9 208.9 489.3 209.5 490.2 211.0 491.6 212.1 492.4 213.7 493.4 215.5 492.0 215.8 491.5 217.2 490.3 217.5 488.9 218.3 489.3 219.6 489.7 220.9 490.5 222.1 491.0 223.3 491.1 224.7 491.9 225.7 492.0 227.1 492.7 228.2 492.7 229.5 493.3 230.7 493.4 232.0 493.7 233.2 494.8 234.1 495.3 235.8 496.3 234.4 497.9 234.7 498.8 233.5 500.3 232.9 501.4 231.9 501.1 230.6 500.1 229.5 499.4 228.4 499.3 226.8 498.4 226.0 497.8 224.9 496.9 224.1 495.8 223.4 495.3 221.9 494.0 221.4 493.2 220.2 492.2 218.9 492.0 217.3 492.1 215.8 492.0 214.3 491.6 212.8 491.2 211.4 491.0 210.1 490.4 208.9 489.5 207.8 489.3 206.5 488.1 205.9 486.9 205.3 485.5 205.3 484.4 204.7 483.2 204.5 481.9 204.5 480.7 204.0 479.8 203.5 479.4 202.3 478.7 201.2 479.0 199.9 478.2 198.8 478.5 197.3 477.6 196.2 477.2 194.6 478.0 193.4 478.9 192.2 479.3 190.8 480.2 189.7 480.4 188.5 480.1 187.2 480.5 186.0 M490.3 186.0 490.7 187.2 491.9 187.8 492.7 188.8 493.5 189.7 494.1 190.8 495.1 191.6 495.8 192.6 496.5 193.7 497.0 194.8 497.7 195.9 498.5 197.0 498.8 198.3 499.2 199.6 499.9 200.8 501.6 201.5 503.4 202.7 503.6 201.4 503.7 200.0 504.0 198.7 505.5 199.0 507.2 199.5 507.2 201.1 508.1 202.3 509.2 203.6 508.4 205.0 508.4 206.5 509.3 208.0 508.7 209.6 510.0 210.2 510.8 211.4 511.9 210.3 512.3 208.7 513.2 207.5 513.8 209.0 515.0 210.5 514.2 211.6 514.0 212.9 513.1 213.9 513.5 215.3 512.9 216.5 513.4 217.8 513.1 219.0 513.1 220.2 513.2 221.5 512.9 222.9 513.4 224.3 512.8 225.7 513.6 226.9 513.4 228.5 513.5 230.0 514.1 231.1 515.6 230.7 517.2 230.7 518.6 229.9 519.9 228.7 520.4 227.1 520.1 225.7 520.3 224.3 519.4 223.1 520.4 221.9 520.7 220.5 520.5 218.9 521.2 217.7 521.9 216.0 520.5 215.5 520.3 214.1 519.5 213.2 518.8 212.3 518.2 211.1 517.2 210.1 517.6 208.5 516.3 207.7 516.2 206.1 515.5 204.8 514.5 203.6 514.5 202.3 513.8 201.3 513.8 200.0 512.7 199.0 513.1 197.6 512.2 196.6 512.2 195.3 511.5 194.2 511.5 192.9 510.6 191.9 510.5 190.7 509.7 189.6 509.9 188.3 509.2 187.3 509.3 186.0 M788.8 616.2 789.2 617.5 790.0 618.5 790.4 619.8 791.1 620.8 791.8 622.0 792.4 623.1 793.2 624.1 793.6 625.4 794.6 626.3 795.1 627.4 795.8 628.5 796.4 629.6 797.4 630.4 798.0 631.5 798.4 632.7 799.2 633.7 799.8 634.8 800.9 635.7 801.5 636.9 802.2 638.1 802.5 639.4 803.2 640.6 803.9 641.8 804.5 643.0 805.3 644.1 805.9 645.3 806.3 646.7 807.1 647.9 807.7 649.1 808.4 650.3 808.6 651.5 808.6 652.8 808.9 654.0 809.4 655.1 809.3 656.4 809.5 657.6 809.7 658.8 809.8 660.0 810.1 661.2 810.1 662.5 810.1 663.7 810.2 665.0 809.8 666.3 810.4 667.5 810.5 668.7 810.1 670.0 810.3 671.2 810.3 672.5 810.3 673.8" stroke="#000" stroke-width="0.95"/><path d="M179.4 193.6 180.8 193.3 182.0 192.6 183.0 191.9 184.6 193.2 183.4 193.8 182.4 194.8 181.3 195.5 M187.0 234.3 186.0 235.6 184.8 235.9 185.8 238.2 184.6 239.2 183.0 239.8 181.6 240.9 180.7 242.5 179.3 243.5 178.5 245.5 179.8 246.1 181.4 246.2 182.8 248.4 181.3 250.1 M250.1 698.8 250.8 700.4 251.0 701.8 251.8 702.9 252.6 704.0 253.3 705.2 254.8 705.6 255.6 706.5 256.7 707.2 257.1 708.6 258.4 709.0 M612.0 263.6 613.0 262.5 614.2 261.6 615.3 260.7 616.4 260.0 617.0 258.5 618.5 258.3 619.3 257.3 620.1 256.3 620.7 255.1 621.5 254.0 622.8 253.7 623.7 252.9 624.5 252.1 625.8 252.5 627.2 252.2 628.7 252.3 629.4 253.5 630.3 254.5 631.7 255.3 630.3 255.2 629.1 255.4 628.1 256.4 626.8 256.5 625.5 257.2 624.3 258.2 623.2 259.1 622.2 260.1 620.8 260.7 619.8 261.6 619.1 262.8 618.3 263.9 616.9 264.1 616.0 264.9 615.3 266.2 613.6 266.6 612.0 267.5 M908.8 263.0 909.4 264.3 908.9 265.5 909.6 266.9 908.5 268.0 909.0 269.6 907.9 270.3 906.9 271.1 906.0 271.9 905.9 273.5 904.5 273.9 903.8 275.0 903.1 276.4 901.3 276.3 900.6 277.8 898.6 277.0 897.9 278.5 896.5 278.4 895.6 279.4 894.5 280.0 893.6 281.1 892.9 281.5 890.5 281.3 890.6 282.9 889.8 283.9 889.0 284.9 887.5 285.7 888.4 287.4 888.1 288.6 886.1 289.0 886.4 290.5 885.5 291.4 884.8 292.0 883.7 292.7 882.8 293.5 883.2 296.0 881.6 296.1 879.9 296.0 879.0 296.9 879.1 299.0 878.1 299.7 877.0 300.2 876.6 300.7 875.7 301.7 874.3 302.6 874.8 304.0 874.7 305.2 875.3 306.5 874.3 307.5 872.5 308.4 873.0 309.7 873.4 311.0 873.1 312.4 872.1 313.7 872.0 315.1 873.4 316.8 872.3 318.0 M889.8 283.7 891.1 283.0 891.6 281.8 892.9 282.8 893.0 284.3 893.8 285.6 892.8 287.1 891.7 288.2 890.4 289.1 888.9 289.5 M828.9 288.5 830.1 289.6 830.4 291.2 830.8 292.5 831.6 293.8 831.2 295.2 831.7 296.6 832.5 297.9 832.4 299.3 832.1 300.8 832.2 302.2 831.5 303.7 831.4 305.3 830.6 303.1 829.9 301.8 829.5 300.5 829.7 299.1 829.1 297.8 829.3 296.3 829.5 295.0 829.3 293.7 829.1 292.4 828.6 291.2 829.0 289.8 828.9 288.5 M870.3 340.3 872.0 340.9 873.3 342.2 873.5 343.5 873.9 344.7 873.6 346.0 874.4 347.5 872.7 347.5 871.0 348.1 871.2 346.8 871.2 345.5 871.0 344.2 870.2 343.0 870.2 341.6 870.3 340.3 M838.4 372.0 840.1 371.2 841.4 370.0 M805.3 687.0 804.2 687.7 803.2 688.4 802.5 689.5 801.4 690.2 800.1 690.5 799.1 691.2 798.3 692.3 797.3 692.9 796.2 693.4 794.9 693.7 794.1 694.7 792.9 695.3 791.8 696.0 790.8 697.0 789.7 697.7 788.9 698.8 787.7 699.5 M745.1 525.1 746.4 525.8 747.6 526.7 748.7 527.5 747.6 528.9 M855.5 644.3 856.6 645.2 857.9 645.4 858.9 645.7 859.8 646.8 859.7 648.2 860.7 649.6 859.5 650.8 858.0 651.9 M855.5 689.5 856.2 690.7 857.7 691.1 858.5 692.1 859.6 693.2 859.5 694.5 859.9 695.8 860.3 697.0 860.5 698.3 M824.9 667.7 825.9 668.7 M914.5 679.5 915.2 680.7 915.7 682.0 M908.7 688.8 910.7 689.8 M947.9 704.6 949.2 704.9 950.6 705.3 952.0 705.5 953.4 705.3 M974.7 708.3 975.9 708.9 977.3 708.6 978.5 709.0 979.7 709.3 980.5 710.7 981.0 712.1 979.7 711.9 978.5 711.9 977.2 711.6 M597.1 622.1 598.2 620.9 599.5 620.1 601.0 619.6 602.1 620.4 603.6 620.2 604.8 620.7 605.7 621.4 605.0 623.0 603.9 624.6 602.7 624.8 601.5 624.7 600.3 624.0 599.1 624.5 M638.1 620.5 639.2 621.4 640.6 621.9 641.7 622.9 642.7 623.9 643.9 624.7 645.4 624.9 646.6 625.7 647.4 627.0 649.2 627.6 647.9 628.2 647.5 629.4 646.9 630.5 646.1 631.4 645.0 632.7 M639.1 611.2 639.7 612.7 641.0 613.6 642.2 614.9 642.8 613.5 644.4 612.6 643.5 611.3 643.0 609.8 M673.3 601.0 674.6 600.9 675.9 600.6 677.2 600.2 678.4 599.5 679.9 599.7 681.1 599.5 682.4 598.6 683.7 599.4 685.0 598.8 686.3 598.4 687.6 598.3 688.9 599.0 690.2 599.1 691.6 598.8 692.8 599.3 694.1 599.7 695.3 600.3 696.8 599.9 698.0 600.6 699.4 600.4 700.7 600.7 702.0 601.0 703.3 601.6 704.4 602.1 705.5 602.8 706.4 603.7 707.1 604.7 708.0 605.6 708.6 606.6 709.5 607.6 710.4 608.6 711.6 609.3 712.3 610.4 M516.0 545.5 517.0 544.0 518.7 542.7 519.7 543.8 521.1 544.4 522.2 546.2 M800.0 413.4 801.8 413.3 803.5 413.1 804.7 413.5 805.5 414.2 806.7 415.1 806.7 416.2 806.4 418.0 805.7 419.7 804.9 421.2 804.3 422.8 804.9 424.2 804.8 425.4 806.5 425.4 807.7 424.2 809.2 424.4 810.5 425.3 811.7 425.6 813.0 425.8 814.1 426.2 815.1 427.1 816.5 427.0 817.6 427.4 819.6 428.4 M819.6 398.8 818.1 399.1 817.1 400.4 816.1 401.4 815.3 402.6 813.9 403.4 813.0 404.5 812.2 405.9 811.2 406.9 812.1 408.0 812.3 409.4 812.8 410.7 812.7 412.1 813.3 413.4 813.4 414.9 814.4 416.1 814.6 417.5 814.3 418.9 815.0 420.0 815.4 421.2 816.6 422.4 817.6 423.7 818.7 424.9 819.6 426.2 819.8 427.6 820.3 428.8 821.3 429.8 821.3 431.1 822.0 432.1 821.9 433.4 822.6 434.5 822.6 435.7 823.0 436.9 823.1 438.7 823.8 440.3 823.9 441.8 824.1 443.2 825.0 444.5 825.0 445.9 824.8 447.3 825.2 448.6 M817.0 400.0 816.9 401.3 816.7 402.6 816.5 403.9 816.6 405.3 817.3 406.8 817.3 408.4 817.3 410.0 817.8 411.1 817.9 412.3 818.6 413.4 818.8 414.6 819.2 416.3 820.3 417.7 821.4 419.1 822.9 420.3 823.5 422.0 825.0 423.2 825.1 425.1 826.1 426.7 827.4 427.4 828.9 428.0 829.0 429.7 830.2 431.1 829.3 432.1 829.3 433.4 829.5 434.6 828.5 436.1 828.9 437.7 828.4 439.3 828.9 440.5 829.5 441.6 830.1 443.1 831.4 441.6 832.1 440.0 831.7 438.4 831.9 436.9 M811.1 430.4 812.4 430.8 813.3 431.8 814.5 432.3 815.5 433.0 816.2 434.2 817.5 434.5 818.5 435.3 819.5 436.1 820.5 436.9 821.0 438.2 822.3 438.7 M815.2 439.2 816.2 440.4 817.4 441.1 818.5 442.0 820.0 442.3 820.9 443.4 822.4 443.8 823.1 445.4 824.6 446.3 M813.5 444.5 814.8 445.2 816.2 445.5 817.7 445.4 818.9 445.7 819.8 446.9 821.1 446.9 822.2 447.8 823.4 448.6 M828.1 390.0 827.3 391.0 825.9 391.2 825.4 392.4 824.5 393.6 824.0 395.0 824.2 396.4 824.2 397.7 824.9 398.8 825.3 399.7 826.8 400.6 828.1 402.2 829.7 401.8 831.3 402.1 832.8 402.3 834.2 402.0 835.2 402.6 835.5 404.1 835.6 405.6 836.1 406.9 836.6 405.4 837.4 404.0 838.1 402.8 838.4 401.4 838.6 399.9 839.3 398.8 839.5 397.5 840.8 396.6 841.0 395.3 841.6 394.0 842.5 392.8 842.5 391.2 843.4 390.0 M827.5 401.7 828.1 403.1 829.1 404.1 829.5 405.6 830.7 406.4 831.7 407.4 832.4 408.6 833.6 409.3 834.7 410.2 835.2 411.9 836.3 413.4 836.3 414.8 836.9 416.1 836.3 417.5 836.7 418.9 835.9 420.1 835.9 421.5 835.7 422.8 835.2 424.0 835.2 425.3 834.2 426.2 834.2 427.6 833.4 428.6 833.1 429.8 832.9 431.0 832.5 432.1 832.6 433.8 832.1 435.3 831.5 436.8 832.0 438.5 831.8 440.1 831.1 441.6 M219.0 636.0 220.2 636.7 221.6 636.8 223.0 637.0 224.2 637.6 225.3 638.5 226.7 638.5 227.9 639.3 229.2 639.8 M260.9 661.4 261.4 662.7 261.9 663.9 262.3 665.2 263.1 666.4 263.5 667.7 M271.1 679.8 272.4 681.7 M276.2 699.5 277.1 700.8 278.1 702.0 M280.0 709.6 280.3 711.1 281.2 712.2 M319.3 702.0 320.3 703.1 320.7 704.5 320.9 706.0 321.4 707.3 322.9 708.1 323.1 709.6 M919.2 199.7 920.7 200.6 920.7 204.6 919.2 205.5 919.2 199.7 M957.8 191.4 959.7 191.9 957.8 195.8 956.3 200.6 955.3 198.7 956.8 193.8 957.8 191.4 M980.7 209.4 980.9 210.8 981.6 212.1 981.7 213.1 982.0 214.9 980.8 215.9 980.6 217.4 979.7 218.8 979.2 219.9 979.3 221.4 980.3 222.2 981.2 223.1 M475.6 199.7 476.1 201.0 476.9 202.2 477.8 203.4 478.7 204.3 479.5 205.6 480.8 206.3 482.5 205.9 483.6 206.8 484.8 207.7 486.1 208.4 487.1 209.5 487.8 210.5 489.1 211.7 488.3 213.2 489.1 214.5 489.7 215.8 489.3 217.2 M190.0 217.2 190.7 218.5 191.5 219.6 192.5 220.7 191.9 222.5 192.6 223.5 193.6 224.7 193.7 226.0 193.1 227.3 193.1 228.5 193.7 229.7 193.9 231.0 193.9 232.4 192.7 233.4 192.2 234.6 191.9 235.9 192.8 237.4 191.7 238.4 190.6 239.4 190.3 240.8 190.1 242.3 189.8 243.9 189.0 245.0 187.3 245.3 187.3 247.0 185.5 247.2 184.9 248.3 183.6 249.2 181.8 249.2 180.6 250.4 M178.1 211.0 177.9 212.5 178.9 213.6 180.1 214.5 179.9 216.0 180.4 217.2 181.0 218.4 180.3 219.9 181.0 221.2 182.7 221.9 183.1 223.5 M146.9 187.2 147.9 188.3 148.4 189.6 148.7 191.1 149.8 192.1 150.5 193.4 150.8 195.0 152.5 195.7 152.6 197.4 154.0 198.4 153.7 200.1 154.4 201.3 155.9 202.1 156.2 203.5" stroke="#000" stroke-width="1.3"/><path d="M148.3 193.0 148.9 194.5 150.3 195.4 151.4 196.2 152.4 197.2 153.2 198.6 153.7 200.2 155.2 201.0 155.8 202.6 157.1 204.4 M178.7 210.1 179.2 211.4 179.9 212.6 180.4 213.8 180.8 215.1 180.6 216.6 181.6 217.7 181.7 219.0 181.8 220.3 181.9 221.6 M173.7 191.7 173.9 193.2 174.6 194.4 175.4 195.6 176.6 196.4 177.4 197.6 178.3 198.4 179.2 199.9 180.6 200.6 181.8 201.5 183.3 201.7 184.6 202.3 185.5 203.7 187.3 204.8 188.2 203.7 188.9 202.5 M188.3 221.6 189.7 222.6 191.1 224.2 190.8 225.7 190.1 227.3 190.5 228.5 191.1 229.6 192.1 230.5 191.5 231.7 190.9 232.9 191.2 234.4 190.0 235.5 189.2 236.6 188.6 237.9 188.0 239.2 187.6 240.6 187.2 242.1 185.5 242.9 184.4 244.4 M166.7 186.0 167.5 187.2 168.1 188.8 169.1 187.7 170.5 187.5 171.7 187.8 173.2 187.7 174.4 186.8 175.6 186.0 M785.6 699.1 786.8 698.4 787.9 697.7 789.1 696.9 790.2 696.1 791.6 696.2 792.7 695.9 793.8 695.1 795.0 694.8" stroke="#000" stroke-width="2.2"/></g>
<rect x="115.7" y="186.5" width="870.6999999999999" height="529.6" fill="none" stroke="#151515" stroke-width="1.3"/>
<path d="M235.0 186.5V169.1 M417.6 186.5V169.1 M594.5 186.5V169.1 M778.4 186.5V169.1 M977.5 186.5V169.1 M287.3 716.1V733.4 M464.7 716.1V733.4 M641.8 716.1V733.4 M822.3 716.1V733.4 M115.7 272.9H98.5 M115.7 371.9H98.5 M115.7 470.6H98.5 M115.7 569.8H98.5 M115.7 669.9H98.5 M986.4 234.1H1003.8 M986.4 336.3H1003.8 M986.4 437.9H1003.8 M986.4 539.1H1003.8 M986.4 640.7H1003.8" stroke="#222" stroke-width="1.4" fill="none"/>
<text x="81.6" y="282.9" font-size="29" text-anchor="end">45°N</text>
<text x="81.6" y="381.9" font-size="29" text-anchor="end">40°N</text>
<text x="81.6" y="480.6" font-size="29" text-anchor="end">35°N</text>
<text x="81.6" y="579.8" font-size="29" text-anchor="end">30°N</text>
<text x="81.6" y="679.9" font-size="29" text-anchor="end">25°N</text>
<text x="285.95" y="761.8" font-size="29" text-anchor="middle">110°W</text>
<text x="463.8" y="761.8" font-size="29" text-anchor="middle">100°W</text>
<text x="640.55" y="761.8" font-size="29" text-anchor="middle">90°W</text>
<text x="821.15" y="761.8" font-size="29" text-anchor="middle">80°W</text>
<rect x="195.30" y="799.8" width="32.35" height="43.6" fill="#ffffff"/>
<rect x="227.65" y="799.8" width="32.35" height="43.6" fill="#dff2fb"/>
<rect x="259.99" y="799.8" width="32.35" height="43.6" fill="#bee6f8"/>
<rect x="292.34" y="799.8" width="32.35" height="43.6" fill="#9ad6f3"/>
<rect x="324.68" y="799.8" width="32.35" height="43.6" fill="#7dbde5"/>
<rect x="357.03" y="799.8" width="32.35" height="43.6" fill="#67a6dc"/>
<rect x="389.37" y="799.8" width="32.35" height="43.6" fill="#4a8bc8"/>
<rect x="421.72" y="799.8" width="32.35" height="43.6" fill="#499a9b"/>
<rect x="454.06" y="799.8" width="32.35" height="43.6" fill="#4aa66f"/>
<rect x="486.41" y="799.8" width="32.35" height="43.6" fill="#4db549"/>
<rect x="518.75" y="799.8" width="32.35" height="43.6" fill="#86c450"/>
<rect x="551.10" y="799.8" width="32.35" height="43.6" fill="#c4d857"/>
<rect x="583.45" y="799.8" width="32.35" height="43.6" fill="#f8e65c"/>
<rect x="615.79" y="799.8" width="32.35" height="43.6" fill="#f7bd4b"/>
<rect x="648.14" y="799.8" width="32.35" height="43.6" fill="#f59a3e"/>
<rect x="680.48" y="799.8" width="32.35" height="43.6" fill="#f26b2d"/>
<rect x="712.83" y="799.8" width="32.35" height="43.6" fill="#e9552c"/>
<rect x="745.17" y="799.8" width="32.35" height="43.6" fill="#e03b28"/>
<rect x="777.52" y="799.8" width="32.35" height="43.6" fill="#d3202a"/>
<rect x="809.86" y="799.8" width="32.35" height="43.6" fill="#bd1c24"/>
<rect x="842.21" y="799.8" width="32.35" height="43.6" fill="#a8191f"/>
<rect x="874.55" y="799.8" width="32.35" height="43.6" fill="#8c1419"/>
<path d="M227.65 799.8V843.4 M259.99 799.8V843.4 M292.34 799.8V843.4 M324.68 799.8V843.4 M357.03 799.8V843.4 M389.37 799.8V843.4 M421.72 799.8V843.4 M454.06 799.8V843.4 M486.41 799.8V843.4 M518.75 799.8V843.4 M551.10 799.8V843.4 M583.45 799.8V843.4 M615.79 799.8V843.4 M648.14 799.8V843.4 M680.48 799.8V843.4 M712.83 799.8V843.4 M745.17 799.8V843.4 M777.52 799.8V843.4 M809.86 799.8V843.4 M842.21 799.8V843.4 M874.55 799.8V843.4" stroke="#000" stroke-width="0.8" fill="none"/>
<rect x="195.3" y="799.8" width="711.60" height="43.6" fill="none" stroke="#858585" stroke-width="0.9"/>
<path d="M195.3 799.8H906.9" stroke="#b4b4b4" stroke-width="0.9"/>
<text x="227.65" y="870" font-size="20.2" text-anchor="middle">0</text>
<text x="259.99" y="870" font-size="20.2" text-anchor="middle">0.2</text>
<text x="292.34" y="870" font-size="20.2" text-anchor="middle">0.4</text>
<text x="324.68" y="870" font-size="20.2" text-anchor="middle">0.6</text>
<text x="357.03" y="870" font-size="20.2" text-anchor="middle">0.8</text>
<text x="389.37" y="870" font-size="20.2" text-anchor="middle">1</text>
<text x="421.72" y="870" font-size="20.2" text-anchor="middle">1.2</text>
<text x="454.06" y="870" font-size="20.2" text-anchor="middle">1.4</text>
<text x="486.41" y="870" font-size="20.2" text-anchor="middle">1.6</text>
<text x="518.75" y="870" font-size="20.2" text-anchor="middle">1.8</text>
<text x="551.10" y="870" font-size="20.2" text-anchor="middle">2</text>
<text x="583.45" y="870" font-size="20.2" text-anchor="middle">2.2</text>
<text x="615.79" y="870" font-size="20.2" text-anchor="middle">2.4</text>
<text x="648.14" y="870" font-size="20.2" text-anchor="middle">2.6</text>
<text x="680.48" y="870" font-size="20.2" text-anchor="middle">2.8</text>
<text x="712.83" y="870" font-size="20.2" text-anchor="middle">3</text>
<text x="745.17" y="870" font-size="20.2" text-anchor="middle">3.2</text>
<text x="777.52" y="870" font-size="20.2" text-anchor="middle">3.4</text>
<text x="809.86" y="870" font-size="20.2" text-anchor="middle">3.6</text>
<text x="842.21" y="870" font-size="20.2" text-anchor="middle">3.8</text>
<text x="874.55" y="870" font-size="20.2" text-anchor="middle">4</text>
</svg></body></html>
